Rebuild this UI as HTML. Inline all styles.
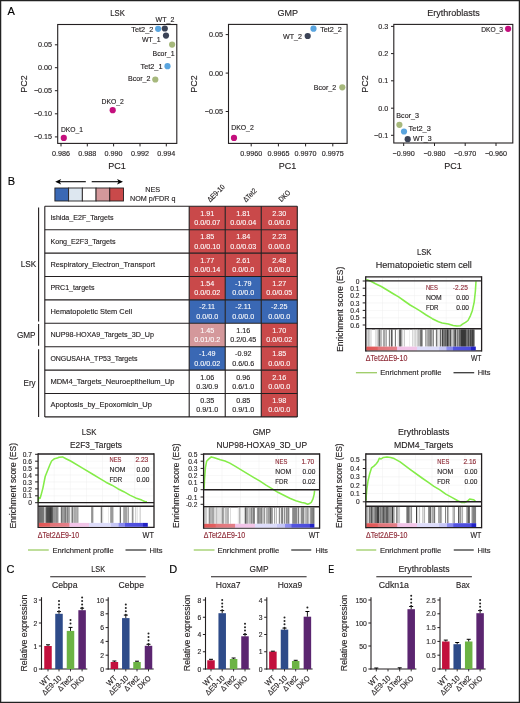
<!DOCTYPE html>
<html><head><meta charset="utf-8"><style>
html,body{margin:0;padding:0;background:#fff;}
svg{display:block;will-change:transform;}
text{font-family:"Liberation Sans", sans-serif;}
</style></head><body>
<svg width="520" height="703" viewBox="0 0 520 703">
<rect x="0" y="0" width="520" height="703" fill="#fff"/>
<text x="7.60" y="15.24" font-size="11" fill="#000" stroke="#000" stroke-width="0.14">A</text>
<text x="7.70" y="184.84" font-size="11" fill="#000" stroke="#000" stroke-width="0.14">B</text>
<text x="6.60" y="573.04" font-size="11" fill="#000" stroke="#000" stroke-width="0.14">C</text>
<text x="169.20" y="573.04" font-size="11" fill="#000" stroke="#000" stroke-width="0.14">D</text>
<text x="328.30" y="572.54" font-size="11" fill="#000" stroke="#000" stroke-width="0.14" textLength="5.90" lengthAdjust="spacingAndGlyphs">E</text>
<rect x="57.70" y="24.50" width="119.10" height="118.90" fill="none" stroke="#231f20" stroke-width="1.1"/>
<line x1="54.90" y1="44.80" x2="57.70" y2="44.80" stroke="#231f20" stroke-width="1"/>
<text x="52.10" y="47.38" font-size="7.2" text-anchor="end" fill="#231f20" stroke="#231f20" stroke-width="0.14">0.05</text>
<line x1="54.90" y1="67.70" x2="57.70" y2="67.70" stroke="#231f20" stroke-width="1"/>
<text x="52.10" y="70.28" font-size="7.2" text-anchor="end" fill="#231f20" stroke="#231f20" stroke-width="0.14">0.00</text>
<line x1="54.90" y1="90.70" x2="57.70" y2="90.70" stroke="#231f20" stroke-width="1"/>
<text x="52.10" y="93.28" font-size="7.2" text-anchor="end" fill="#231f20" stroke="#231f20" stroke-width="0.14">−0.05</text>
<line x1="54.90" y1="113.80" x2="57.70" y2="113.80" stroke="#231f20" stroke-width="1"/>
<text x="52.10" y="116.38" font-size="7.2" text-anchor="end" fill="#231f20" stroke="#231f20" stroke-width="0.14">−0.10</text>
<line x1="54.90" y1="136.90" x2="57.70" y2="136.90" stroke="#231f20" stroke-width="1"/>
<text x="52.10" y="139.48" font-size="7.2" text-anchor="end" fill="#231f20" stroke="#231f20" stroke-width="0.14">−0.15</text>
<line x1="61.00" y1="143.40" x2="61.00" y2="146.40" stroke="#231f20" stroke-width="1"/>
<text x="61.00" y="156.00" font-size="7.2" text-anchor="middle" fill="#231f20" stroke="#231f20" stroke-width="0.14">0.986</text>
<line x1="87.30" y1="143.40" x2="87.30" y2="146.40" stroke="#231f20" stroke-width="1"/>
<text x="87.30" y="156.00" font-size="7.2" text-anchor="middle" fill="#231f20" stroke="#231f20" stroke-width="0.14">0.988</text>
<line x1="113.60" y1="143.40" x2="113.60" y2="146.40" stroke="#231f20" stroke-width="1"/>
<text x="113.60" y="156.00" font-size="7.2" text-anchor="middle" fill="#231f20" stroke="#231f20" stroke-width="0.14">0.990</text>
<line x1="140.00" y1="143.40" x2="140.00" y2="146.40" stroke="#231f20" stroke-width="1"/>
<text x="140.00" y="156.00" font-size="7.2" text-anchor="middle" fill="#231f20" stroke="#231f20" stroke-width="0.14">0.992</text>
<line x1="166.30" y1="143.40" x2="166.30" y2="146.40" stroke="#231f20" stroke-width="1"/>
<text x="166.30" y="156.00" font-size="7.2" text-anchor="middle" fill="#231f20" stroke="#231f20" stroke-width="0.14">0.994</text>
<text x="117.50" y="16.20" font-size="9" text-anchor="middle" fill="#231f20" stroke="#231f20" stroke-width="0.14" textLength="14.60" lengthAdjust="spacingAndGlyphs">LSK</text>
<text transform="translate(24.20,84.00) rotate(-90)" x="0" y="3.22" font-size="9" text-anchor="middle" fill="#231f20" stroke="#231f20" stroke-width="0.14">PC2</text>
<text x="117.00" y="169.20" font-size="9" text-anchor="middle" fill="#231f20" stroke="#231f20" stroke-width="0.14">PC1</text>
<circle cx="158.10" cy="28.80" r="3.1" fill="#5aa5df"/>
<circle cx="164.80" cy="28.50" r="3.1" fill="#3b4356"/>
<circle cx="166.00" cy="35.60" r="3.1" fill="#3b4356"/>
<circle cx="172.10" cy="44.60" r="3.1" fill="#a6b87c"/>
<circle cx="167.50" cy="66.20" r="3.1" fill="#5aa5df"/>
<circle cx="155.30" cy="79.50" r="3.1" fill="#a6b87c"/>
<circle cx="112.70" cy="110.20" r="3.1" fill="#c40f7d"/>
<circle cx="63.80" cy="137.90" r="3.1" fill="#c40f7d"/>
<text x="155.60" y="21.91" font-size="7.3" fill="#231f20" stroke="#231f20" stroke-width="0.14" textLength="18.70" lengthAdjust="spacingAndGlyphs">WT_2</text>
<text x="131.30" y="32.11" font-size="7.3" fill="#231f20" stroke="#231f20" stroke-width="0.14" textLength="22.00" lengthAdjust="spacingAndGlyphs">Tet2_2</text>
<text x="142.00" y="42.41" font-size="7.3" fill="#231f20" stroke="#231f20" stroke-width="0.14" textLength="18.50" lengthAdjust="spacingAndGlyphs">WT_1</text>
<text x="152.50" y="56.21" font-size="7.3" fill="#231f20" stroke="#231f20" stroke-width="0.14" textLength="22.00" lengthAdjust="spacingAndGlyphs">Bcor_1</text>
<text x="140.50" y="68.81" font-size="7.3" fill="#231f20" stroke="#231f20" stroke-width="0.14" textLength="22.00" lengthAdjust="spacingAndGlyphs">Tet2_1</text>
<text x="128.00" y="81.41" font-size="7.3" fill="#231f20" stroke="#231f20" stroke-width="0.14" textLength="22.50" lengthAdjust="spacingAndGlyphs">Bcor_2</text>
<text x="101.50" y="103.81" font-size="7.3" fill="#231f20" stroke="#231f20" stroke-width="0.14" textLength="22.30" lengthAdjust="spacingAndGlyphs">DKO_2</text>
<text x="61.00" y="131.51" font-size="7.3" fill="#231f20" stroke="#231f20" stroke-width="0.14" textLength="22.00" lengthAdjust="spacingAndGlyphs">DKO_1</text>
<rect x="228.50" y="24.40" width="118.60" height="119.00" fill="none" stroke="#231f20" stroke-width="1.1"/>
<line x1="225.70" y1="34.60" x2="228.50" y2="34.60" stroke="#231f20" stroke-width="1"/>
<text x="222.90" y="37.18" font-size="7.2" text-anchor="end" fill="#231f20" stroke="#231f20" stroke-width="0.14">0.05</text>
<line x1="225.70" y1="73.10" x2="228.50" y2="73.10" stroke="#231f20" stroke-width="1"/>
<text x="222.90" y="75.68" font-size="7.2" text-anchor="end" fill="#231f20" stroke="#231f20" stroke-width="0.14">0.00</text>
<line x1="225.70" y1="111.50" x2="228.50" y2="111.50" stroke="#231f20" stroke-width="1"/>
<text x="222.90" y="114.08" font-size="7.2" text-anchor="end" fill="#231f20" stroke="#231f20" stroke-width="0.14">−0.05</text>
<line x1="251.20" y1="143.40" x2="251.20" y2="146.40" stroke="#231f20" stroke-width="1"/>
<text x="251.20" y="156.00" font-size="7.2" text-anchor="middle" fill="#231f20" stroke="#231f20" stroke-width="0.14">0.9960</text>
<line x1="278.40" y1="143.40" x2="278.40" y2="146.40" stroke="#231f20" stroke-width="1"/>
<text x="278.40" y="156.00" font-size="7.2" text-anchor="middle" fill="#231f20" stroke="#231f20" stroke-width="0.14">0.9965</text>
<line x1="305.60" y1="143.40" x2="305.60" y2="146.40" stroke="#231f20" stroke-width="1"/>
<text x="305.60" y="156.00" font-size="7.2" text-anchor="middle" fill="#231f20" stroke="#231f20" stroke-width="0.14">0.9970</text>
<line x1="332.80" y1="143.40" x2="332.80" y2="146.40" stroke="#231f20" stroke-width="1"/>
<text x="332.80" y="156.00" font-size="7.2" text-anchor="middle" fill="#231f20" stroke="#231f20" stroke-width="0.14">0.9975</text>
<text x="287.80" y="16.20" font-size="9" text-anchor="middle" fill="#231f20" stroke="#231f20" stroke-width="0.14">GMP</text>
<text transform="translate(194.20,84.00) rotate(-90)" x="0" y="3.22" font-size="9" text-anchor="middle" fill="#231f20" stroke="#231f20" stroke-width="0.14">PC2</text>
<text x="287.40" y="169.20" font-size="9" text-anchor="middle" fill="#231f20" stroke="#231f20" stroke-width="0.14">PC1</text>
<circle cx="313.50" cy="28.70" r="3.1" fill="#5aa5df"/>
<circle cx="307.70" cy="36.00" r="3.1" fill="#3b4356"/>
<circle cx="342.30" cy="87.30" r="3.1" fill="#a6b87c"/>
<circle cx="234.00" cy="137.90" r="3.1" fill="#c40f7d"/>
<text x="320.20" y="31.81" font-size="7.3" fill="#231f20" stroke="#231f20" stroke-width="0.14" textLength="21.70" lengthAdjust="spacingAndGlyphs">Tet2_2</text>
<text x="283.00" y="38.61" font-size="7.3" fill="#231f20" stroke="#231f20" stroke-width="0.14" textLength="19.00" lengthAdjust="spacingAndGlyphs">WT_2</text>
<text x="313.80" y="89.61" font-size="7.3" fill="#231f20" stroke="#231f20" stroke-width="0.14" textLength="22.40" lengthAdjust="spacingAndGlyphs">Bcor_2</text>
<text x="231.20" y="130.31" font-size="7.3" fill="#231f20" stroke="#231f20" stroke-width="0.14" textLength="22.60" lengthAdjust="spacingAndGlyphs">DKO_2</text>
<rect x="393.80" y="24.40" width="119.00" height="118.60" fill="none" stroke="#231f20" stroke-width="1.1"/>
<line x1="391.00" y1="26.40" x2="393.80" y2="26.40" stroke="#231f20" stroke-width="1"/>
<text x="388.20" y="28.98" font-size="7.2" text-anchor="end" fill="#231f20" stroke="#231f20" stroke-width="0.14">0.3</text>
<line x1="391.00" y1="53.60" x2="393.80" y2="53.60" stroke="#231f20" stroke-width="1"/>
<text x="388.20" y="56.18" font-size="7.2" text-anchor="end" fill="#231f20" stroke="#231f20" stroke-width="0.14">0.2</text>
<line x1="391.00" y1="80.80" x2="393.80" y2="80.80" stroke="#231f20" stroke-width="1"/>
<text x="388.20" y="83.38" font-size="7.2" text-anchor="end" fill="#231f20" stroke="#231f20" stroke-width="0.14">0.1</text>
<line x1="391.00" y1="108.20" x2="393.80" y2="108.20" stroke="#231f20" stroke-width="1"/>
<text x="388.20" y="110.78" font-size="7.2" text-anchor="end" fill="#231f20" stroke="#231f20" stroke-width="0.14">0.0</text>
<line x1="391.00" y1="135.30" x2="393.80" y2="135.30" stroke="#231f20" stroke-width="1"/>
<text x="388.20" y="137.88" font-size="7.2" text-anchor="end" fill="#231f20" stroke="#231f20" stroke-width="0.14">−0.1</text>
<line x1="403.70" y1="143.00" x2="403.70" y2="146.00" stroke="#231f20" stroke-width="1"/>
<text x="403.70" y="156.00" font-size="7.2" text-anchor="middle" fill="#231f20" stroke="#231f20" stroke-width="0.14">−0.990</text>
<line x1="434.50" y1="143.00" x2="434.50" y2="146.00" stroke="#231f20" stroke-width="1"/>
<text x="434.50" y="156.00" font-size="7.2" text-anchor="middle" fill="#231f20" stroke="#231f20" stroke-width="0.14">−0.980</text>
<line x1="465.20" y1="143.00" x2="465.20" y2="146.00" stroke="#231f20" stroke-width="1"/>
<text x="465.20" y="156.00" font-size="7.2" text-anchor="middle" fill="#231f20" stroke="#231f20" stroke-width="0.14">−0.970</text>
<line x1="496.00" y1="143.00" x2="496.00" y2="146.00" stroke="#231f20" stroke-width="1"/>
<text x="496.00" y="156.00" font-size="7.2" text-anchor="middle" fill="#231f20" stroke="#231f20" stroke-width="0.14">−0.960</text>
<text x="453.50" y="16.20" font-size="9" text-anchor="middle" fill="#231f20" stroke="#231f20" stroke-width="0.14">Erythroblasts</text>
<text transform="translate(364.80,84.00) rotate(-90)" x="0" y="3.22" font-size="9" text-anchor="middle" fill="#231f20" stroke="#231f20" stroke-width="0.14">PC2</text>
<text x="453.00" y="169.20" font-size="9" text-anchor="middle" fill="#231f20" stroke="#231f20" stroke-width="0.14">PC1</text>
<circle cx="508.10" cy="28.80" r="3.1" fill="#c40f7d"/>
<circle cx="399.40" cy="124.80" r="3.1" fill="#a6b87c"/>
<circle cx="404.00" cy="131.50" r="3.1" fill="#5aa5df"/>
<circle cx="407.70" cy="139.20" r="3.1" fill="#3b4356"/>
<text x="481.20" y="32.41" font-size="7.3" fill="#231f20" stroke="#231f20" stroke-width="0.14" textLength="21.90" lengthAdjust="spacingAndGlyphs">DKO_3</text>
<text x="396.30" y="118.41" font-size="7.3" fill="#231f20" stroke="#231f20" stroke-width="0.14" textLength="22.70" lengthAdjust="spacingAndGlyphs">Bcor_3</text>
<text x="408.60" y="130.81" font-size="7.3" fill="#231f20" stroke="#231f20" stroke-width="0.14" textLength="22.20" lengthAdjust="spacingAndGlyphs">Tet2_3</text>
<text x="412.90" y="140.91" font-size="7.3" fill="#231f20" stroke="#231f20" stroke-width="0.14" textLength="18.80" lengthAdjust="spacingAndGlyphs">WT_3</text>
<line x1="58.50" y1="181.70" x2="85.80" y2="181.70" stroke="#000" stroke-width="1.1"/>
<line x1="91.70" y1="181.70" x2="119.70" y2="181.70" stroke="#000" stroke-width="1.1"/>
<path d="M55.2,181.7 L61.2,179.0 L59.6,181.7 L61.2,184.4 Z" fill="#000"/>
<path d="M123.0,181.7 L117.0,179.0 L118.6,181.7 L117.0,184.4 Z" fill="#000"/>
<rect x="54.90" y="188.00" width="13.72" height="13.00" fill="#3a68b4" stroke="#231f20" stroke-width="0.9"/>
<rect x="68.62" y="188.00" width="13.72" height="13.00" fill="#dde7f0" stroke="#231f20" stroke-width="0.9"/>
<rect x="82.34" y="188.00" width="13.72" height="13.00" fill="#ffffff" stroke="#231f20" stroke-width="0.9"/>
<rect x="96.06" y="188.00" width="13.72" height="13.00" fill="#d4989b" stroke="#231f20" stroke-width="0.9"/>
<rect x="109.78" y="188.00" width="13.72" height="13.00" fill="#c9494a" stroke="#231f20" stroke-width="0.9"/>
<text x="152.70" y="191.81" font-size="7.3" text-anchor="middle" fill="#231f20" stroke="#231f20" stroke-width="0.14">NES</text>
<text x="152.70" y="201.41" font-size="7.3" text-anchor="middle" fill="#231f20" stroke="#231f20" stroke-width="0.14" textLength="45.40" lengthAdjust="spacingAndGlyphs">NOM p/FDR q</text>
<rect x="44.80" y="206.30" width="144.40" height="23.40" fill="#fff"/>
<text x="50.40" y="220.29" font-size="7.5" fill="#231f20" stroke="#231f20" stroke-width="0.14" textLength="63.10" lengthAdjust="spacingAndGlyphs">Ishida_E2F_Targets</text>
<rect x="189.20" y="206.30" width="36.03" height="23.40" fill="#c9494a"/>
<text x="207.21" y="215.78" font-size="7.2" text-anchor="middle" fill="#fff" stroke="#fff" stroke-width="0.08">1.91</text>
<text x="207.21" y="225.18" font-size="7.2" text-anchor="middle" fill="#fff" stroke="#fff" stroke-width="0.08">0.0/0.07</text>
<rect x="225.23" y="206.30" width="36.03" height="23.40" fill="#c9494a"/>
<text x="243.25" y="215.78" font-size="7.2" text-anchor="middle" fill="#fff" stroke="#fff" stroke-width="0.08">1.81</text>
<text x="243.25" y="225.18" font-size="7.2" text-anchor="middle" fill="#fff" stroke="#fff" stroke-width="0.08">0.0/0.04</text>
<rect x="261.26" y="206.30" width="36.03" height="23.40" fill="#c9494a"/>
<text x="279.27" y="215.78" font-size="7.2" text-anchor="middle" fill="#fff" stroke="#fff" stroke-width="0.08">2.30</text>
<text x="279.27" y="225.18" font-size="7.2" text-anchor="middle" fill="#fff" stroke="#fff" stroke-width="0.08">0.0/0.0</text>
<rect x="44.80" y="229.70" width="144.40" height="23.40" fill="#fff"/>
<text x="50.40" y="243.69" font-size="7.5" fill="#231f20" stroke="#231f20" stroke-width="0.14" textLength="65.20" lengthAdjust="spacingAndGlyphs">Kong_E2F3_Targets</text>
<rect x="189.20" y="229.70" width="36.03" height="23.40" fill="#c9494a"/>
<text x="207.21" y="239.18" font-size="7.2" text-anchor="middle" fill="#fff" stroke="#fff" stroke-width="0.08">1.85</text>
<text x="207.21" y="248.58" font-size="7.2" text-anchor="middle" fill="#fff" stroke="#fff" stroke-width="0.08">0.0/0.10</text>
<rect x="225.23" y="229.70" width="36.03" height="23.40" fill="#c9494a"/>
<text x="243.25" y="239.18" font-size="7.2" text-anchor="middle" fill="#fff" stroke="#fff" stroke-width="0.08">1.84</text>
<text x="243.25" y="248.58" font-size="7.2" text-anchor="middle" fill="#fff" stroke="#fff" stroke-width="0.08">0.0/0.03</text>
<rect x="261.26" y="229.70" width="36.03" height="23.40" fill="#c9494a"/>
<text x="279.27" y="239.18" font-size="7.2" text-anchor="middle" fill="#fff" stroke="#fff" stroke-width="0.08">2.23</text>
<text x="279.27" y="248.58" font-size="7.2" text-anchor="middle" fill="#fff" stroke="#fff" stroke-width="0.08">0.0/0.0</text>
<rect x="44.80" y="253.10" width="144.40" height="23.40" fill="#fff"/>
<text x="50.40" y="267.09" font-size="7.5" fill="#231f20" stroke="#231f20" stroke-width="0.14" textLength="104.60" lengthAdjust="spacingAndGlyphs">Respiratory_Electron_Transport</text>
<rect x="189.20" y="253.10" width="36.03" height="23.40" fill="#c9494a"/>
<text x="207.21" y="262.58" font-size="7.2" text-anchor="middle" fill="#fff" stroke="#fff" stroke-width="0.08">1.77</text>
<text x="207.21" y="271.98" font-size="7.2" text-anchor="middle" fill="#fff" stroke="#fff" stroke-width="0.08">0.0/0.14</text>
<rect x="225.23" y="253.10" width="36.03" height="23.40" fill="#c9494a"/>
<text x="243.25" y="262.58" font-size="7.2" text-anchor="middle" fill="#fff" stroke="#fff" stroke-width="0.08">2.61</text>
<text x="243.25" y="271.98" font-size="7.2" text-anchor="middle" fill="#fff" stroke="#fff" stroke-width="0.08">0.0/0.0</text>
<rect x="261.26" y="253.10" width="36.03" height="23.40" fill="#c9494a"/>
<text x="279.27" y="262.58" font-size="7.2" text-anchor="middle" fill="#fff" stroke="#fff" stroke-width="0.08">2.48</text>
<text x="279.27" y="271.98" font-size="7.2" text-anchor="middle" fill="#fff" stroke="#fff" stroke-width="0.08">0.0/0.0</text>
<rect x="44.80" y="276.50" width="144.40" height="23.40" fill="#fff"/>
<text x="50.40" y="290.49" font-size="7.5" fill="#231f20" stroke="#231f20" stroke-width="0.14" textLength="44.00" lengthAdjust="spacingAndGlyphs">PRC1_targets</text>
<rect x="189.20" y="276.50" width="36.03" height="23.40" fill="#c9494a"/>
<text x="207.21" y="285.98" font-size="7.2" text-anchor="middle" fill="#fff" stroke="#fff" stroke-width="0.08">1.54</text>
<text x="207.21" y="295.38" font-size="7.2" text-anchor="middle" fill="#fff" stroke="#fff" stroke-width="0.08">0.0/0.02</text>
<rect x="225.23" y="276.50" width="36.03" height="23.40" fill="#3a68b4"/>
<text x="243.25" y="285.98" font-size="7.2" text-anchor="middle" fill="#fff" stroke="#fff" stroke-width="0.08">-1.79</text>
<text x="243.25" y="295.38" font-size="7.2" text-anchor="middle" fill="#fff" stroke="#fff" stroke-width="0.08">0.0/0.0</text>
<rect x="261.26" y="276.50" width="36.03" height="23.40" fill="#c9494a"/>
<text x="279.27" y="285.98" font-size="7.2" text-anchor="middle" fill="#fff" stroke="#fff" stroke-width="0.08">1.27</text>
<text x="279.27" y="295.38" font-size="7.2" text-anchor="middle" fill="#fff" stroke="#fff" stroke-width="0.08">0.0/0.05</text>
<rect x="44.80" y="299.90" width="144.40" height="23.40" fill="#fff"/>
<text x="50.40" y="313.88" font-size="7.5" fill="#231f20" stroke="#231f20" stroke-width="0.14" textLength="81.80" lengthAdjust="spacingAndGlyphs">Hematopoietic Stem Cell</text>
<rect x="189.20" y="299.90" width="36.03" height="23.40" fill="#3a68b4"/>
<text x="207.21" y="309.38" font-size="7.2" text-anchor="middle" fill="#fff" stroke="#fff" stroke-width="0.08">-2.11</text>
<text x="207.21" y="318.78" font-size="7.2" text-anchor="middle" fill="#fff" stroke="#fff" stroke-width="0.08">0.0/0.0</text>
<rect x="225.23" y="299.90" width="36.03" height="23.40" fill="#3a68b4"/>
<text x="243.25" y="309.38" font-size="7.2" text-anchor="middle" fill="#fff" stroke="#fff" stroke-width="0.08">-2.11</text>
<text x="243.25" y="318.78" font-size="7.2" text-anchor="middle" fill="#fff" stroke="#fff" stroke-width="0.08">0.0/0.0</text>
<rect x="261.26" y="299.90" width="36.03" height="23.40" fill="#3a68b4"/>
<text x="279.27" y="309.38" font-size="7.2" text-anchor="middle" fill="#fff" stroke="#fff" stroke-width="0.08">-2.25</text>
<text x="279.27" y="318.78" font-size="7.2" text-anchor="middle" fill="#fff" stroke="#fff" stroke-width="0.08">0.0/0.0</text>
<rect x="44.80" y="323.30" width="144.40" height="23.40" fill="#fff"/>
<text x="50.40" y="337.29" font-size="7.5" fill="#231f20" stroke="#231f20" stroke-width="0.14" textLength="103.60" lengthAdjust="spacingAndGlyphs">NUP98-HOXA9_Targets_3D_Up</text>
<rect x="189.20" y="323.30" width="36.03" height="23.40" fill="#d4989b"/>
<text x="207.21" y="332.78" font-size="7.2" text-anchor="middle" fill="#fff" stroke="#fff" stroke-width="0.08">1.45</text>
<text x="207.21" y="342.18" font-size="7.2" text-anchor="middle" fill="#fff" stroke="#fff" stroke-width="0.08">0.01/0.2</text>
<rect x="225.23" y="323.30" width="36.03" height="23.40" fill="#fff"/>
<text x="243.25" y="332.78" font-size="7.2" text-anchor="middle" fill="#231f20" stroke="#231f20" stroke-width="0.14">1.16</text>
<text x="243.25" y="342.18" font-size="7.2" text-anchor="middle" fill="#231f20" stroke="#231f20" stroke-width="0.14">0.2/0.45</text>
<rect x="261.26" y="323.30" width="36.03" height="23.40" fill="#c9494a"/>
<text x="279.27" y="332.78" font-size="7.2" text-anchor="middle" fill="#fff" stroke="#fff" stroke-width="0.08">1.70</text>
<text x="279.27" y="342.18" font-size="7.2" text-anchor="middle" fill="#fff" stroke="#fff" stroke-width="0.08">0.0/0.02</text>
<rect x="44.80" y="346.70" width="144.40" height="23.40" fill="#fff"/>
<text x="50.40" y="360.69" font-size="7.5" fill="#231f20" stroke="#231f20" stroke-width="0.14" textLength="87.10" lengthAdjust="spacingAndGlyphs">ONGUSAHA_TP53_Targets</text>
<rect x="189.20" y="346.70" width="36.03" height="23.40" fill="#3a68b4"/>
<text x="207.21" y="356.18" font-size="7.2" text-anchor="middle" fill="#fff" stroke="#fff" stroke-width="0.08">-1.49</text>
<text x="207.21" y="365.58" font-size="7.2" text-anchor="middle" fill="#fff" stroke="#fff" stroke-width="0.08">0.0/0.02</text>
<rect x="225.23" y="346.70" width="36.03" height="23.40" fill="#fff"/>
<text x="243.25" y="356.18" font-size="7.2" text-anchor="middle" fill="#231f20" stroke="#231f20" stroke-width="0.14">-0.92</text>
<text x="243.25" y="365.58" font-size="7.2" text-anchor="middle" fill="#231f20" stroke="#231f20" stroke-width="0.14">0.6/0.6</text>
<rect x="261.26" y="346.70" width="36.03" height="23.40" fill="#c9494a"/>
<text x="279.27" y="356.18" font-size="7.2" text-anchor="middle" fill="#fff" stroke="#fff" stroke-width="0.08">1.85</text>
<text x="279.27" y="365.58" font-size="7.2" text-anchor="middle" fill="#fff" stroke="#fff" stroke-width="0.08">0.0/0.0</text>
<rect x="44.80" y="370.10" width="144.40" height="23.40" fill="#fff"/>
<text x="50.40" y="384.09" font-size="7.5" fill="#231f20" stroke="#231f20" stroke-width="0.14" textLength="124.10" lengthAdjust="spacingAndGlyphs">MDM4_Targets_Neuroepithelium_Up</text>
<rect x="189.20" y="370.10" width="36.03" height="23.40" fill="#fff"/>
<text x="207.21" y="379.58" font-size="7.2" text-anchor="middle" fill="#231f20" stroke="#231f20" stroke-width="0.14">1.06</text>
<text x="207.21" y="388.98" font-size="7.2" text-anchor="middle" fill="#231f20" stroke="#231f20" stroke-width="0.14">0.3/0.9</text>
<rect x="225.23" y="370.10" width="36.03" height="23.40" fill="#fff"/>
<text x="243.25" y="379.58" font-size="7.2" text-anchor="middle" fill="#231f20" stroke="#231f20" stroke-width="0.14">0.96</text>
<text x="243.25" y="388.98" font-size="7.2" text-anchor="middle" fill="#231f20" stroke="#231f20" stroke-width="0.14">0.6/1.0</text>
<rect x="261.26" y="370.10" width="36.03" height="23.40" fill="#c9494a"/>
<text x="279.27" y="379.58" font-size="7.2" text-anchor="middle" fill="#fff" stroke="#fff" stroke-width="0.08">2.16</text>
<text x="279.27" y="388.98" font-size="7.2" text-anchor="middle" fill="#fff" stroke="#fff" stroke-width="0.08">0.0/0.0</text>
<rect x="44.80" y="393.50" width="144.40" height="23.40" fill="#fff"/>
<text x="50.40" y="407.49" font-size="7.5" fill="#231f20" stroke="#231f20" stroke-width="0.14" textLength="101.50" lengthAdjust="spacingAndGlyphs">Apoptosis_by_Epoxomicin_Up</text>
<rect x="189.20" y="393.50" width="36.03" height="23.40" fill="#fff"/>
<text x="207.21" y="402.98" font-size="7.2" text-anchor="middle" fill="#231f20" stroke="#231f20" stroke-width="0.14">0.35</text>
<text x="207.21" y="412.38" font-size="7.2" text-anchor="middle" fill="#231f20" stroke="#231f20" stroke-width="0.14">0.9/1.0</text>
<rect x="225.23" y="393.50" width="36.03" height="23.40" fill="#fff"/>
<text x="243.25" y="402.98" font-size="7.2" text-anchor="middle" fill="#231f20" stroke="#231f20" stroke-width="0.14">0.85</text>
<text x="243.25" y="412.38" font-size="7.2" text-anchor="middle" fill="#231f20" stroke="#231f20" stroke-width="0.14">0.9/1.0</text>
<rect x="261.26" y="393.50" width="36.03" height="23.40" fill="#c9494a"/>
<text x="279.27" y="402.98" font-size="7.2" text-anchor="middle" fill="#fff" stroke="#fff" stroke-width="0.08">1.98</text>
<text x="279.27" y="412.38" font-size="7.2" text-anchor="middle" fill="#fff" stroke="#fff" stroke-width="0.08">0.0/0.0</text>
<line x1="44.80" y1="206.30" x2="297.29" y2="206.30" stroke="#231f20" stroke-width="1.1"/>
<line x1="44.80" y1="229.70" x2="297.29" y2="229.70" stroke="#231f20" stroke-width="1.1"/>
<line x1="44.80" y1="253.10" x2="297.29" y2="253.10" stroke="#231f20" stroke-width="1.1"/>
<line x1="44.80" y1="276.50" x2="297.29" y2="276.50" stroke="#231f20" stroke-width="1.1"/>
<line x1="44.80" y1="299.90" x2="297.29" y2="299.90" stroke="#231f20" stroke-width="1.1"/>
<line x1="44.80" y1="323.30" x2="297.29" y2="323.30" stroke="#231f20" stroke-width="1.1"/>
<line x1="44.80" y1="346.70" x2="297.29" y2="346.70" stroke="#231f20" stroke-width="1.1"/>
<line x1="44.80" y1="370.10" x2="297.29" y2="370.10" stroke="#231f20" stroke-width="1.1"/>
<line x1="44.80" y1="393.50" x2="297.29" y2="393.50" stroke="#231f20" stroke-width="1.1"/>
<line x1="44.80" y1="416.90" x2="297.29" y2="416.90" stroke="#231f20" stroke-width="1.1"/>
<line x1="44.80" y1="206.30" x2="44.80" y2="416.90" stroke="#231f20" stroke-width="1.1"/>
<line x1="189.20" y1="206.30" x2="189.20" y2="416.90" stroke="#231f20" stroke-width="1.1"/>
<line x1="225.23" y1="206.30" x2="225.23" y2="416.90" stroke="#231f20" stroke-width="1.1"/>
<line x1="261.26" y1="206.30" x2="261.26" y2="416.90" stroke="#231f20" stroke-width="1.1"/>
<line x1="297.29" y1="206.30" x2="297.29" y2="416.90" stroke="#231f20" stroke-width="1.1"/>
<line x1="38.60" y1="207.50" x2="38.60" y2="321.50" stroke="#231f20" stroke-width="1.1"/>
<line x1="38.60" y1="323.90" x2="38.60" y2="345.80" stroke="#231f20" stroke-width="1.1"/>
<line x1="38.60" y1="349.20" x2="38.60" y2="416.90" stroke="#231f20" stroke-width="1.1"/>
<text x="36.30" y="266.62" font-size="9" text-anchor="end" fill="#231f20" stroke="#231f20" stroke-width="0.14" textLength="15.50" lengthAdjust="spacingAndGlyphs">LSK</text>
<text x="35.60" y="337.82" font-size="9" text-anchor="end" fill="#231f20" stroke="#231f20" stroke-width="0.14" textLength="18.70" lengthAdjust="spacingAndGlyphs">GMP</text>
<text x="35.60" y="385.52" font-size="9" text-anchor="end" fill="#231f20" stroke="#231f20" stroke-width="0.14" textLength="12.10" lengthAdjust="spacingAndGlyphs">Ery</text>
<text transform="translate(210.30,202.60) rotate(-45)" x="0" y="0" font-size="7.4" fill="#231f20" stroke="#231f20" stroke-width="0.14" textLength="21.30" lengthAdjust="spacingAndGlyphs">ΔE9-10</text>
<text transform="translate(246.00,202.60) rotate(-45)" x="0" y="0" font-size="7.4" fill="#231f20" stroke="#231f20" stroke-width="0.14" textLength="16.00" lengthAdjust="spacingAndGlyphs">ΔTet2</text>
<text transform="translate(281.60,202.30) rotate(-45)" x="0" y="0" font-size="7.4" fill="#231f20" stroke="#231f20" stroke-width="0.14" textLength="13.00" lengthAdjust="spacingAndGlyphs">DKO</text>
<defs><linearGradient id="gg" x1="0" x2="1" y1="0" y2="0">
<stop offset="0" stop-color="#e25454"/><stop offset="0.10" stop-color="#e26060"/>
<stop offset="0.11" stop-color="#e27478"/><stop offset="0.28" stop-color="#e4808a"/>
<stop offset="0.285" stop-color="#f2c2e8"/><stop offset="0.46" stop-color="#f2c6e8"/>
<stop offset="0.465" stop-color="#dedcfa"/><stop offset="0.66" stop-color="#dcdcfa"/>
<stop offset="0.665" stop-color="#c8c8f6"/><stop offset="0.73" stop-color="#c4c4f6"/>
<stop offset="0.735" stop-color="#8c8cee"/><stop offset="0.79" stop-color="#8686ee"/>
<stop offset="0.795" stop-color="#5454e0"/><stop offset="0.955" stop-color="#4c4cde"/>
<stop offset="0.96" stop-color="#2424c6"/><stop offset="1" stop-color="#2020c4"/>
</linearGradient></defs>
<line x1="382.50" y1="277.90" x2="382.50" y2="327.80" stroke="#efefef" stroke-width="0.5"/>
<line x1="398.40" y1="277.90" x2="398.40" y2="327.80" stroke="#efefef" stroke-width="0.5"/>
<line x1="414.40" y1="277.90" x2="414.40" y2="327.80" stroke="#efefef" stroke-width="0.5"/>
<line x1="430.30" y1="277.90" x2="430.30" y2="327.80" stroke="#efefef" stroke-width="0.5"/>
<line x1="446.20" y1="277.90" x2="446.20" y2="327.80" stroke="#efefef" stroke-width="0.5"/>
<line x1="462.10" y1="277.90" x2="462.10" y2="327.80" stroke="#efefef" stroke-width="0.5"/>
<line x1="366.70" y1="288.20" x2="480.60" y2="288.20" stroke="#efefef" stroke-width="0.5"/>
<line x1="366.70" y1="295.60" x2="480.60" y2="295.60" stroke="#efefef" stroke-width="0.5"/>
<line x1="366.70" y1="302.90" x2="480.60" y2="302.90" stroke="#efefef" stroke-width="0.5"/>
<line x1="366.70" y1="310.40" x2="480.60" y2="310.40" stroke="#efefef" stroke-width="0.5"/>
<line x1="366.70" y1="317.80" x2="480.60" y2="317.80" stroke="#efefef" stroke-width="0.5"/>
<line x1="366.70" y1="325.00" x2="480.60" y2="325.00" stroke="#efefef" stroke-width="0.5"/>
<path d="M366.30,279.60 L370.90,281.30 L375.50,283.70 L381.30,286.50 L387.10,290.00 L392.80,293.50 L398.60,296.90 L404.40,301.00 L410.10,305.00 L415.90,308.40 L420.00,310.90 L426.20,315.00 L432.30,318.70 L438.50,321.80 L442.20,323.00 L448.30,324.00 L453.20,325.50 L456.90,326.10 L460.60,325.70 L462.50,324.20 L465.50,322.40 L468.00,320.50 L470.50,315.60 L472.30,310.70 L474.20,302.10 L475.40,291.00 L476.00,281.20" fill="none" stroke="#84ec48" stroke-width="1.55" stroke-linejoin="round"/>
<line x1="365.70" y1="276.90" x2="481.60" y2="276.90" stroke="#231f20" stroke-width="1.4"/>
<line x1="365.70" y1="280.90" x2="481.60" y2="280.90" stroke="#231f20" stroke-width="1.4"/>
<line x1="365.70" y1="328.80" x2="481.60" y2="328.80" stroke="#231f20" stroke-width="1.4"/>
<line x1="365.70" y1="350.90" x2="481.60" y2="350.90" stroke="#231f20" stroke-width="1.3"/>
<rect x="366.40" y="329.60" width="0.55" height="17.00" fill="rgb(122,122,122)"/>
<rect x="366.90" y="329.60" width="0.55" height="17.00" fill="rgb(207,207,207)"/>
<rect x="367.40" y="329.60" width="0.55" height="17.00" fill="rgb(207,207,207)"/>
<rect x="367.90" y="329.60" width="0.55" height="17.00" fill="rgb(171,171,171)"/>
<rect x="368.40" y="329.60" width="0.55" height="17.00" fill="rgb(171,171,171)"/>
<rect x="368.90" y="329.60" width="0.55" height="17.00" fill="rgb(171,171,171)"/>
<rect x="369.40" y="329.60" width="0.55" height="17.00" fill="rgb(202,202,202)"/>
<rect x="369.90" y="329.60" width="0.55" height="17.00" fill="rgb(202,202,202)"/>
<rect x="370.40" y="329.60" width="0.55" height="17.00" fill="rgb(222,222,222)"/>
<rect x="370.90" y="329.60" width="0.55" height="17.00" fill="rgb(222,222,222)"/>
<rect x="371.40" y="329.60" width="0.55" height="17.00" fill="rgb(222,222,222)"/>
<rect x="374.90" y="329.60" width="0.55" height="17.00" fill="rgb(242,242,242)"/>
<rect x="375.40" y="329.60" width="0.55" height="17.00" fill="rgb(210,210,210)"/>
<rect x="375.90" y="329.60" width="0.55" height="17.00" fill="rgb(210,210,210)"/>
<rect x="376.40" y="329.60" width="0.55" height="17.00" fill="rgb(231,231,231)"/>
<rect x="376.90" y="329.60" width="0.55" height="17.00" fill="rgb(194,194,194)"/>
<rect x="377.40" y="329.60" width="0.55" height="17.00" fill="rgb(194,194,194)"/>
<rect x="377.90" y="329.60" width="0.55" height="17.00" fill="rgb(194,194,194)"/>
<rect x="378.40" y="329.60" width="0.55" height="17.00" fill="rgb(141,141,141)"/>
<rect x="378.90" y="329.60" width="0.55" height="17.00" fill="rgb(73,73,73)"/>
<rect x="379.40" y="329.60" width="0.55" height="17.00" fill="rgb(73,73,73)"/>
<rect x="379.90" y="329.60" width="0.55" height="17.00" fill="rgb(73,73,73)"/>
<rect x="380.40" y="329.60" width="0.55" height="17.00" fill="rgb(206,206,206)"/>
<rect x="380.90" y="329.60" width="0.55" height="17.00" fill="rgb(107,107,107)"/>
<rect x="382.90" y="329.60" width="0.55" height="17.00" fill="rgb(143,143,143)"/>
<rect x="383.40" y="329.60" width="0.55" height="17.00" fill="rgb(143,143,143)"/>
<rect x="383.90" y="329.60" width="0.55" height="17.00" fill="rgb(143,143,143)"/>
<rect x="384.40" y="329.60" width="0.55" height="17.00" fill="rgb(143,143,143)"/>
<rect x="384.90" y="329.60" width="0.55" height="17.00" fill="rgb(143,143,143)"/>
<rect x="385.90" y="329.60" width="0.55" height="17.00" fill="rgb(145,145,145)"/>
<rect x="386.40" y="329.60" width="0.55" height="17.00" fill="rgb(145,145,145)"/>
<rect x="388.90" y="329.60" width="0.55" height="17.00" fill="rgb(93,93,93)"/>
<rect x="389.40" y="329.60" width="0.55" height="17.00" fill="rgb(93,93,93)"/>
<rect x="390.90" y="329.60" width="0.55" height="17.00" fill="rgb(41,41,41)"/>
<rect x="391.40" y="329.60" width="0.55" height="17.00" fill="rgb(41,41,41)"/>
<rect x="391.90" y="329.60" width="0.55" height="17.00" fill="rgb(41,41,41)"/>
<rect x="394.90" y="329.60" width="0.55" height="17.00" fill="rgb(78,78,78)"/>
<rect x="395.40" y="329.60" width="0.55" height="17.00" fill="rgb(78,78,78)"/>
<rect x="397.40" y="329.60" width="0.55" height="17.00" fill="rgb(229,229,229)"/>
<rect x="397.90" y="329.60" width="0.55" height="17.00" fill="rgb(229,229,229)"/>
<rect x="398.40" y="329.60" width="0.55" height="17.00" fill="rgb(229,229,229)"/>
<rect x="398.90" y="329.60" width="0.55" height="17.00" fill="rgb(133,133,133)"/>
<rect x="399.40" y="329.60" width="0.55" height="17.00" fill="rgb(48,48,48)"/>
<rect x="399.90" y="329.60" width="0.55" height="17.00" fill="rgb(48,48,48)"/>
<rect x="400.40" y="329.60" width="0.55" height="17.00" fill="rgb(48,48,48)"/>
<rect x="400.90" y="329.60" width="0.55" height="17.00" fill="rgb(48,48,48)"/>
<rect x="402.40" y="329.60" width="0.55" height="17.00" fill="rgb(187,187,187)"/>
<rect x="403.90" y="329.60" width="0.55" height="17.00" fill="rgb(144,144,144)"/>
<rect x="409.40" y="329.60" width="0.55" height="17.00" fill="rgb(225,225,225)"/>
<rect x="412.40" y="329.60" width="0.55" height="17.00" fill="rgb(184,184,184)"/>
<rect x="413.40" y="329.60" width="0.55" height="17.00" fill="rgb(227,227,227)"/>
<rect x="413.90" y="329.60" width="0.55" height="17.00" fill="rgb(207,207,207)"/>
<rect x="414.90" y="329.60" width="0.55" height="17.00" fill="rgb(138,138,138)"/>
<rect x="415.40" y="329.60" width="0.55" height="17.00" fill="rgb(220,220,220)"/>
<rect x="415.90" y="329.60" width="0.55" height="17.00" fill="rgb(231,231,231)"/>
<rect x="416.90" y="329.60" width="0.55" height="17.00" fill="rgb(121,121,121)"/>
<rect x="417.40" y="329.60" width="0.55" height="17.00" fill="rgb(239,239,239)"/>
<rect x="417.90" y="329.60" width="0.55" height="17.00" fill="rgb(108,108,108)"/>
<rect x="419.40" y="329.60" width="0.55" height="17.00" fill="rgb(149,149,149)"/>
<rect x="419.90" y="329.60" width="0.55" height="17.00" fill="rgb(149,149,149)"/>
<rect x="420.40" y="329.60" width="0.55" height="17.00" fill="rgb(69,69,69)"/>
<rect x="420.90" y="329.60" width="0.55" height="17.00" fill="rgb(69,69,69)"/>
<rect x="421.40" y="329.60" width="0.55" height="17.00" fill="rgb(69,69,69)"/>
<rect x="421.90" y="329.60" width="0.55" height="17.00" fill="rgb(69,69,69)"/>
<rect x="425.40" y="329.60" width="0.55" height="17.00" fill="rgb(89,89,89)"/>
<rect x="425.90" y="329.60" width="0.55" height="17.00" fill="rgb(172,172,172)"/>
<rect x="426.40" y="329.60" width="0.55" height="17.00" fill="rgb(172,172,172)"/>
<rect x="426.90" y="329.60" width="0.55" height="17.00" fill="rgb(172,172,172)"/>
<rect x="427.40" y="329.60" width="0.55" height="17.00" fill="rgb(148,148,148)"/>
<rect x="427.90" y="329.60" width="0.55" height="17.00" fill="rgb(128,128,128)"/>
<rect x="428.40" y="329.60" width="0.55" height="17.00" fill="rgb(128,128,128)"/>
<rect x="428.90" y="329.60" width="0.55" height="17.00" fill="rgb(128,128,128)"/>
<rect x="429.40" y="329.60" width="0.55" height="17.00" fill="rgb(128,128,128)"/>
<rect x="429.90" y="329.60" width="0.55" height="17.00" fill="rgb(128,128,128)"/>
<rect x="430.40" y="329.60" width="0.55" height="17.00" fill="rgb(81,81,81)"/>
<rect x="430.90" y="329.60" width="0.55" height="17.00" fill="rgb(81,81,81)"/>
<rect x="431.40" y="329.60" width="0.55" height="17.00" fill="rgb(132,132,132)"/>
<rect x="431.90" y="329.60" width="0.55" height="17.00" fill="rgb(132,132,132)"/>
<rect x="432.90" y="329.60" width="0.55" height="17.00" fill="rgb(100,100,100)"/>
<rect x="433.40" y="329.60" width="0.55" height="17.00" fill="rgb(100,100,100)"/>
<rect x="435.90" y="329.60" width="0.55" height="17.00" fill="rgb(86,86,86)"/>
<rect x="436.40" y="329.60" width="0.55" height="17.00" fill="rgb(82,82,82)"/>
<rect x="436.90" y="329.60" width="0.55" height="17.00" fill="rgb(44,44,44)"/>
<rect x="437.40" y="329.60" width="0.55" height="17.00" fill="rgb(225,225,225)"/>
<rect x="437.90" y="329.60" width="0.55" height="17.00" fill="rgb(225,225,225)"/>
<rect x="438.40" y="329.60" width="0.55" height="17.00" fill="rgb(225,225,225)"/>
<rect x="438.90" y="329.60" width="0.55" height="17.00" fill="rgb(225,225,225)"/>
<rect x="439.40" y="329.60" width="0.55" height="17.00" fill="rgb(225,225,225)"/>
<rect x="439.90" y="329.60" width="0.55" height="17.00" fill="rgb(92,92,92)"/>
<rect x="440.40" y="329.60" width="0.55" height="17.00" fill="rgb(32,32,32)"/>
<rect x="440.90" y="329.60" width="0.55" height="17.00" fill="rgb(160,160,160)"/>
<rect x="441.90" y="329.60" width="0.55" height="17.00" fill="rgb(17,17,17)"/>
<rect x="442.40" y="329.60" width="0.55" height="17.00" fill="rgb(17,17,17)"/>
<rect x="442.90" y="329.60" width="0.55" height="17.00" fill="rgb(17,17,17)"/>
<rect x="443.40" y="329.60" width="0.55" height="17.00" fill="rgb(127,127,127)"/>
<rect x="443.90" y="329.60" width="0.55" height="17.00" fill="rgb(24,24,24)"/>
<rect x="444.40" y="329.60" width="0.55" height="17.00" fill="rgb(96,96,96)"/>
<rect x="444.90" y="329.60" width="0.55" height="17.00" fill="rgb(104,104,104)"/>
<rect x="445.40" y="329.60" width="0.55" height="17.00" fill="rgb(45,45,45)"/>
<rect x="445.90" y="329.60" width="0.55" height="17.00" fill="rgb(0,0,0)"/>
<rect x="446.40" y="329.60" width="0.55" height="17.00" fill="rgb(124,124,124)"/>
<rect x="446.90" y="329.60" width="0.55" height="17.00" fill="rgb(0,0,0)"/>
<rect x="447.40" y="329.60" width="0.55" height="17.00" fill="rgb(0,0,0)"/>
<rect x="447.90" y="329.60" width="0.55" height="17.00" fill="rgb(0,0,0)"/>
<rect x="448.40" y="329.60" width="0.55" height="17.00" fill="rgb(83,83,83)"/>
<rect x="449.40" y="329.60" width="0.55" height="17.00" fill="rgb(67,67,67)"/>
<rect x="449.90" y="329.60" width="0.55" height="17.00" fill="rgb(67,67,67)"/>
<rect x="450.40" y="329.60" width="0.55" height="17.00" fill="rgb(27,27,27)"/>
<rect x="450.90" y="329.60" width="0.55" height="17.00" fill="rgb(12,12,12)"/>
<rect x="451.40" y="329.60" width="0.55" height="17.00" fill="rgb(203,203,203)"/>
<rect x="451.90" y="329.60" width="0.55" height="17.00" fill="rgb(203,203,203)"/>
<rect x="452.40" y="329.60" width="0.55" height="17.00" fill="rgb(203,203,203)"/>
<rect x="452.90" y="329.60" width="0.55" height="17.00" fill="rgb(58,58,58)"/>
<rect x="453.40" y="329.60" width="0.55" height="17.00" fill="rgb(170,170,170)"/>
<rect x="453.90" y="329.60" width="0.55" height="17.00" fill="rgb(78,78,78)"/>
<rect x="454.40" y="329.60" width="0.55" height="17.00" fill="rgb(78,78,78)"/>
<rect x="454.90" y="329.60" width="0.55" height="17.00" fill="rgb(33,33,33)"/>
<rect x="455.40" y="329.60" width="0.55" height="17.00" fill="rgb(0,0,0)"/>
<rect x="455.90" y="329.60" width="0.55" height="17.00" fill="rgb(125,125,125)"/>
<rect x="456.90" y="329.60" width="0.55" height="17.00" fill="rgb(74,74,74)"/>
<rect x="457.40" y="329.60" width="0.55" height="17.00" fill="rgb(74,74,74)"/>
<rect x="457.90" y="329.60" width="0.55" height="17.00" fill="rgb(144,144,144)"/>
<rect x="458.40" y="329.60" width="0.55" height="17.00" fill="rgb(144,144,144)"/>
<rect x="458.90" y="329.60" width="0.55" height="17.00" fill="rgb(52,52,52)"/>
<rect x="459.40" y="329.60" width="0.55" height="17.00" fill="rgb(64,64,64)"/>
<rect x="459.90" y="329.60" width="0.55" height="17.00" fill="rgb(64,64,64)"/>
<rect x="460.40" y="329.60" width="0.55" height="17.00" fill="rgb(64,64,64)"/>
<rect x="460.90" y="329.60" width="0.55" height="17.00" fill="rgb(0,0,0)"/>
<rect x="461.40" y="329.60" width="0.55" height="17.00" fill="rgb(0,0,0)"/>
<rect x="461.90" y="329.60" width="0.55" height="17.00" fill="rgb(0,0,0)"/>
<rect x="462.40" y="329.60" width="0.55" height="17.00" fill="rgb(0,0,0)"/>
<rect x="462.90" y="329.60" width="0.55" height="17.00" fill="rgb(0,0,0)"/>
<rect x="463.40" y="329.60" width="0.55" height="17.00" fill="rgb(0,0,0)"/>
<rect x="463.90" y="329.60" width="0.55" height="17.00" fill="rgb(0,0,0)"/>
<rect x="464.40" y="329.60" width="0.55" height="17.00" fill="rgb(0,0,0)"/>
<rect x="464.90" y="329.60" width="0.55" height="17.00" fill="rgb(0,0,0)"/>
<rect x="465.40" y="329.60" width="0.55" height="17.00" fill="rgb(0,0,0)"/>
<rect x="465.90" y="329.60" width="0.55" height="17.00" fill="rgb(52,52,52)"/>
<rect x="466.40" y="329.60" width="0.55" height="17.00" fill="rgb(77,77,77)"/>
<rect x="466.90" y="329.60" width="0.55" height="17.00" fill="rgb(77,77,77)"/>
<rect x="467.40" y="329.60" width="0.55" height="17.00" fill="rgb(88,88,88)"/>
<rect x="467.90" y="329.60" width="0.55" height="17.00" fill="rgb(6,6,6)"/>
<rect x="468.40" y="329.60" width="0.55" height="17.00" fill="rgb(6,6,6)"/>
<rect x="468.90" y="329.60" width="0.55" height="17.00" fill="rgb(153,153,153)"/>
<rect x="469.40" y="329.60" width="0.55" height="17.00" fill="rgb(65,65,65)"/>
<rect x="469.90" y="329.60" width="0.55" height="17.00" fill="rgb(65,65,65)"/>
<rect x="470.40" y="329.60" width="0.55" height="17.00" fill="rgb(4,4,4)"/>
<rect x="470.90" y="329.60" width="0.55" height="17.00" fill="rgb(4,4,4)"/>
<rect x="471.40" y="329.60" width="0.55" height="17.00" fill="rgb(70,70,70)"/>
<rect x="471.90" y="329.60" width="0.55" height="17.00" fill="rgb(14,14,14)"/>
<rect x="472.40" y="329.60" width="0.55" height="17.00" fill="rgb(10,10,10)"/>
<rect x="472.90" y="329.60" width="0.55" height="17.00" fill="rgb(10,10,10)"/>
<rect x="473.40" y="329.60" width="0.55" height="17.00" fill="rgb(33,33,33)"/>
<rect x="473.90" y="329.60" width="0.55" height="17.00" fill="rgb(33,33,33)"/>
<rect x="366.20" y="346.60" width="109.60" height="3.70" fill="url(#gg)"/>
<line x1="365.70" y1="276.20" x2="365.70" y2="351.55" stroke="#231f20" stroke-width="1.3"/>
<line x1="481.60" y1="276.20" x2="481.60" y2="351.55" stroke="#231f20" stroke-width="1.3"/>
<line x1="362.70" y1="281.00" x2="365.70" y2="281.00" stroke="#231f20" stroke-width="1"/>
<text x="359.50" y="283.65" font-size="7.4" text-anchor="end" fill="#231f20" stroke="#231f20" stroke-width="0.14" textLength="3.70" lengthAdjust="spacingAndGlyphs">0</text>
<line x1="362.70" y1="288.20" x2="365.70" y2="288.20" stroke="#231f20" stroke-width="1"/>
<text x="359.50" y="290.85" font-size="7.4" text-anchor="end" fill="#231f20" stroke="#231f20" stroke-width="0.14" textLength="9.26" lengthAdjust="spacingAndGlyphs">0.1</text>
<line x1="362.70" y1="295.60" x2="365.70" y2="295.60" stroke="#231f20" stroke-width="1"/>
<text x="359.50" y="298.25" font-size="7.4" text-anchor="end" fill="#231f20" stroke="#231f20" stroke-width="0.14" textLength="9.26" lengthAdjust="spacingAndGlyphs">0.2</text>
<line x1="362.70" y1="302.90" x2="365.70" y2="302.90" stroke="#231f20" stroke-width="1"/>
<text x="359.50" y="305.55" font-size="7.4" text-anchor="end" fill="#231f20" stroke="#231f20" stroke-width="0.14" textLength="9.26" lengthAdjust="spacingAndGlyphs">0.3</text>
<line x1="362.70" y1="310.40" x2="365.70" y2="310.40" stroke="#231f20" stroke-width="1"/>
<text x="359.50" y="313.05" font-size="7.4" text-anchor="end" fill="#231f20" stroke="#231f20" stroke-width="0.14" textLength="9.26" lengthAdjust="spacingAndGlyphs">0.4</text>
<line x1="362.70" y1="317.80" x2="365.70" y2="317.80" stroke="#231f20" stroke-width="1"/>
<text x="359.50" y="320.45" font-size="7.4" text-anchor="end" fill="#231f20" stroke="#231f20" stroke-width="0.14" textLength="9.26" lengthAdjust="spacingAndGlyphs">0.5</text>
<line x1="362.70" y1="325.00" x2="365.70" y2="325.00" stroke="#231f20" stroke-width="1"/>
<text x="359.50" y="327.65" font-size="7.4" text-anchor="end" fill="#231f20" stroke="#231f20" stroke-width="0.14" textLength="9.26" lengthAdjust="spacingAndGlyphs">0.6</text>
<text x="416.90" y="254.90" font-size="9.5" fill="#231f20" stroke="#231f20" stroke-width="0.14" textLength="14.60" lengthAdjust="spacingAndGlyphs">LSK</text>
<text x="375.80" y="267.70" font-size="9.5" fill="#231f20" stroke="#231f20" stroke-width="0.14" textLength="96.10" lengthAdjust="spacingAndGlyphs">Hematopoietic stem cell</text>
<text x="425.90" y="289.51" font-size="7.3" fill="#8e2a36" stroke="#8e2a36" stroke-width="0.14" textLength="12.00" lengthAdjust="spacingAndGlyphs">NES</text>
<text x="467.80" y="289.51" font-size="7.3" text-anchor="end" fill="#8e2a36" stroke="#8e2a36" stroke-width="0.14" textLength="14.98" lengthAdjust="spacingAndGlyphs">-2.25</text>
<text x="425.90" y="299.81" font-size="7.3" fill="#231f20" stroke="#231f20" stroke-width="0.14" textLength="15.80" lengthAdjust="spacingAndGlyphs">NOM</text>
<text x="469.00" y="299.81" font-size="7.3" text-anchor="end" fill="#231f20" stroke="#231f20" stroke-width="0.14" textLength="12.79" lengthAdjust="spacingAndGlyphs">0.00</text>
<text x="425.90" y="309.81" font-size="7.3" fill="#231f20" stroke="#231f20" stroke-width="0.14" textLength="12.60" lengthAdjust="spacingAndGlyphs">FDR</text>
<text x="469.00" y="309.81" font-size="7.3" text-anchor="end" fill="#231f20" stroke="#231f20" stroke-width="0.14" textLength="12.79" lengthAdjust="spacingAndGlyphs">0.00</text>
<text transform="translate(340.20,309.30) rotate(-90)" x="0" y="3.01" font-size="8.4" text-anchor="middle" fill="#231f20" stroke="#231f20" stroke-width="0.14" textLength="85.00" lengthAdjust="spacingAndGlyphs">Enrichment score (ES)</text>
<text x="365.80" y="360.84" font-size="8.2" fill="#8e2a36" stroke="#8e2a36" stroke-width="0.14" textLength="41.50" lengthAdjust="spacingAndGlyphs">ΔTet2ΔE9-10</text>
<text x="471.00" y="360.84" font-size="8.2" fill="#231f20" stroke="#231f20" stroke-width="0.14" textLength="10.50" lengthAdjust="spacingAndGlyphs">WT</text>
<line x1="355.90" y1="372.70" x2="377.00" y2="372.70" stroke="#9ccc65" stroke-width="1.3"/>
<text x="380.20" y="375.42" font-size="7.6" fill="#231f20" stroke="#231f20" stroke-width="0.14" textLength="61.40" lengthAdjust="spacingAndGlyphs">Enrichment profile</text>
<line x1="453.50" y1="372.70" x2="474.20" y2="372.70" stroke="#3a3a3a" stroke-width="1.3"/>
<text x="477.70" y="375.42" font-size="7.6" fill="#231f20" stroke="#231f20" stroke-width="0.14" textLength="12.80" lengthAdjust="spacingAndGlyphs">Hits</text>
<line x1="54.20" y1="455.00" x2="54.20" y2="505.30" stroke="#efefef" stroke-width="0.5"/>
<line x1="70.30" y1="455.00" x2="70.30" y2="505.30" stroke="#efefef" stroke-width="0.5"/>
<line x1="86.40" y1="455.00" x2="86.40" y2="505.30" stroke="#efefef" stroke-width="0.5"/>
<line x1="102.50" y1="455.00" x2="102.50" y2="505.30" stroke="#efefef" stroke-width="0.5"/>
<line x1="118.60" y1="455.00" x2="118.60" y2="505.30" stroke="#efefef" stroke-width="0.5"/>
<line x1="134.70" y1="455.00" x2="134.70" y2="505.30" stroke="#efefef" stroke-width="0.5"/>
<line x1="39.10" y1="454.30" x2="153.00" y2="454.30" stroke="#efefef" stroke-width="0.5"/>
<line x1="39.10" y1="461.20" x2="153.00" y2="461.20" stroke="#efefef" stroke-width="0.5"/>
<line x1="39.10" y1="468.10" x2="153.00" y2="468.10" stroke="#efefef" stroke-width="0.5"/>
<line x1="39.10" y1="475.00" x2="153.00" y2="475.00" stroke="#efefef" stroke-width="0.5"/>
<line x1="39.10" y1="481.90" x2="153.00" y2="481.90" stroke="#efefef" stroke-width="0.5"/>
<line x1="39.10" y1="488.90" x2="153.00" y2="488.90" stroke="#efefef" stroke-width="0.5"/>
<line x1="39.10" y1="495.80" x2="153.00" y2="495.80" stroke="#efefef" stroke-width="0.5"/>
<path d="M38.30,502.50 L38.50,497.30 L40.00,498.40 L40.80,496.10 L42.90,488.10 L45.20,476.50 L47.50,470.80 L49.80,465.00 L51.60,461.00 L54.50,458.70 L57.30,458.10 L59.10,457.20 L62.50,456.90 L66.00,458.70 L70.60,461.00 L82.10,467.90 L94.00,475.00 L100.00,478.60 L105.90,482.20 L111.90,485.20 L117.80,488.70 L123.80,491.70 L129.80,495.10 L135.70,497.90 L141.70,500.10 L145.30,501.80 L147.00,501.80" fill="none" stroke="#84ec48" stroke-width="1.55" stroke-linejoin="round"/>
<line x1="38.10" y1="454.00" x2="154.00" y2="454.00" stroke="#231f20" stroke-width="1.4"/>
<line x1="38.10" y1="502.60" x2="154.00" y2="502.60" stroke="#231f20" stroke-width="1.4"/>
<line x1="38.10" y1="506.30" x2="154.00" y2="506.30" stroke="#231f20" stroke-width="1.4"/>
<line x1="38.10" y1="527.40" x2="154.00" y2="527.40" stroke="#231f20" stroke-width="1.3"/>
<rect x="38.80" y="507.10" width="0.55" height="15.80" fill="rgb(66,66,66)"/>
<rect x="39.30" y="507.10" width="0.55" height="15.80" fill="rgb(66,66,66)"/>
<rect x="39.80" y="507.10" width="0.55" height="15.80" fill="rgb(66,66,66)"/>
<rect x="40.30" y="507.10" width="0.55" height="15.80" fill="rgb(66,66,66)"/>
<rect x="40.80" y="507.10" width="0.55" height="15.80" fill="rgb(81,81,81)"/>
<rect x="41.30" y="507.10" width="0.55" height="15.80" fill="rgb(72,72,72)"/>
<rect x="41.80" y="507.10" width="0.55" height="15.80" fill="rgb(72,72,72)"/>
<rect x="42.30" y="507.10" width="0.55" height="15.80" fill="rgb(72,72,72)"/>
<rect x="42.80" y="507.10" width="0.55" height="15.80" fill="rgb(85,85,85)"/>
<rect x="43.30" y="507.10" width="0.55" height="15.80" fill="rgb(79,79,79)"/>
<rect x="43.80" y="507.10" width="0.55" height="15.80" fill="rgb(79,79,79)"/>
<rect x="45.30" y="507.10" width="0.55" height="15.80" fill="rgb(110,110,110)"/>
<rect x="45.80" y="507.10" width="0.55" height="15.80" fill="rgb(110,110,110)"/>
<rect x="46.30" y="507.10" width="0.55" height="15.80" fill="rgb(20,20,20)"/>
<rect x="46.80" y="507.10" width="0.55" height="15.80" fill="rgb(20,20,20)"/>
<rect x="47.30" y="507.10" width="0.55" height="15.80" fill="rgb(20,20,20)"/>
<rect x="47.80" y="507.10" width="0.55" height="15.80" fill="rgb(29,29,29)"/>
<rect x="48.30" y="507.10" width="0.55" height="15.80" fill="rgb(19,19,19)"/>
<rect x="48.80" y="507.10" width="0.55" height="15.80" fill="rgb(19,19,19)"/>
<rect x="49.30" y="507.10" width="0.55" height="15.80" fill="rgb(19,19,19)"/>
<rect x="49.80" y="507.10" width="0.55" height="15.80" fill="rgb(0,0,0)"/>
<rect x="50.30" y="507.10" width="0.55" height="15.80" fill="rgb(0,0,0)"/>
<rect x="50.80" y="507.10" width="0.55" height="15.80" fill="rgb(0,0,0)"/>
<rect x="51.30" y="507.10" width="0.55" height="15.80" fill="rgb(20,20,20)"/>
<rect x="51.80" y="507.10" width="0.55" height="15.80" fill="rgb(20,20,20)"/>
<rect x="52.30" y="507.10" width="0.55" height="15.80" fill="rgb(20,20,20)"/>
<rect x="52.80" y="507.10" width="0.55" height="15.80" fill="rgb(115,115,115)"/>
<rect x="53.30" y="507.10" width="0.55" height="15.80" fill="rgb(115,115,115)"/>
<rect x="53.80" y="507.10" width="0.55" height="15.80" fill="rgb(115,115,115)"/>
<rect x="54.30" y="507.10" width="0.55" height="15.80" fill="rgb(115,115,115)"/>
<rect x="54.80" y="507.10" width="0.55" height="15.80" fill="rgb(118,118,118)"/>
<rect x="55.30" y="507.10" width="0.55" height="15.80" fill="rgb(105,105,105)"/>
<rect x="55.80" y="507.10" width="0.55" height="15.80" fill="rgb(155,155,155)"/>
<rect x="56.30" y="507.10" width="0.55" height="15.80" fill="rgb(81,81,81)"/>
<rect x="56.80" y="507.10" width="0.55" height="15.80" fill="rgb(111,111,111)"/>
<rect x="57.30" y="507.10" width="0.55" height="15.80" fill="rgb(111,111,111)"/>
<rect x="57.80" y="507.10" width="0.55" height="15.80" fill="rgb(111,111,111)"/>
<rect x="60.80" y="507.10" width="0.55" height="15.80" fill="rgb(123,123,123)"/>
<rect x="61.30" y="507.10" width="0.55" height="15.80" fill="rgb(62,62,62)"/>
<rect x="61.80" y="507.10" width="0.55" height="15.80" fill="rgb(62,62,62)"/>
<rect x="62.30" y="507.10" width="0.55" height="15.80" fill="rgb(134,134,134)"/>
<rect x="62.80" y="507.10" width="0.55" height="15.80" fill="rgb(134,134,134)"/>
<rect x="63.30" y="507.10" width="0.55" height="15.80" fill="rgb(134,134,134)"/>
<rect x="63.80" y="507.10" width="0.55" height="15.80" fill="rgb(111,111,111)"/>
<rect x="64.30" y="507.10" width="0.55" height="15.80" fill="rgb(111,111,111)"/>
<rect x="64.80" y="507.10" width="0.55" height="15.80" fill="rgb(104,104,104)"/>
<rect x="65.30" y="507.10" width="0.55" height="15.80" fill="rgb(63,63,63)"/>
<rect x="65.80" y="507.10" width="0.55" height="15.80" fill="rgb(105,105,105)"/>
<rect x="66.30" y="507.10" width="0.55" height="15.80" fill="rgb(176,176,176)"/>
<rect x="66.80" y="507.10" width="0.55" height="15.80" fill="rgb(124,124,124)"/>
<rect x="67.30" y="507.10" width="0.55" height="15.80" fill="rgb(89,89,89)"/>
<rect x="67.80" y="507.10" width="0.55" height="15.80" fill="rgb(74,74,74)"/>
<rect x="68.30" y="507.10" width="0.55" height="15.80" fill="rgb(147,147,147)"/>
<rect x="68.80" y="507.10" width="0.55" height="15.80" fill="rgb(147,147,147)"/>
<rect x="69.30" y="507.10" width="0.55" height="15.80" fill="rgb(147,147,147)"/>
<rect x="69.80" y="507.10" width="0.55" height="15.80" fill="rgb(147,147,147)"/>
<rect x="70.30" y="507.10" width="0.55" height="15.80" fill="rgb(249,249,249)"/>
<rect x="70.80" y="507.10" width="0.55" height="15.80" fill="rgb(249,249,249)"/>
<rect x="71.30" y="507.10" width="0.55" height="15.80" fill="rgb(165,165,165)"/>
<rect x="71.80" y="507.10" width="0.55" height="15.80" fill="rgb(109,109,109)"/>
<rect x="72.30" y="507.10" width="0.55" height="15.80" fill="rgb(77,77,77)"/>
<rect x="72.80" y="507.10" width="0.55" height="15.80" fill="rgb(77,77,77)"/>
<rect x="73.30" y="507.10" width="0.55" height="15.80" fill="rgb(194,194,194)"/>
<rect x="73.80" y="507.10" width="0.55" height="15.80" fill="rgb(203,203,203)"/>
<rect x="74.30" y="507.10" width="0.55" height="15.80" fill="rgb(129,129,129)"/>
<rect x="74.80" y="507.10" width="0.55" height="15.80" fill="rgb(129,129,129)"/>
<rect x="75.30" y="507.10" width="0.55" height="15.80" fill="rgb(139,139,139)"/>
<rect x="76.30" y="507.10" width="0.55" height="15.80" fill="rgb(133,133,133)"/>
<rect x="76.80" y="507.10" width="0.55" height="15.80" fill="rgb(133,133,133)"/>
<rect x="77.30" y="507.10" width="0.55" height="15.80" fill="rgb(147,147,147)"/>
<rect x="77.80" y="507.10" width="0.55" height="15.80" fill="rgb(129,129,129)"/>
<rect x="91.30" y="507.10" width="0.55" height="15.80" fill="rgb(104,104,104)"/>
<rect x="91.80" y="507.10" width="0.55" height="15.80" fill="rgb(104,104,104)"/>
<rect x="92.30" y="507.10" width="0.55" height="15.80" fill="rgb(104,104,104)"/>
<rect x="92.80" y="507.10" width="0.55" height="15.80" fill="rgb(143,143,143)"/>
<rect x="100.80" y="507.10" width="0.55" height="15.80" fill="rgb(83,83,83)"/>
<rect x="101.30" y="507.10" width="0.55" height="15.80" fill="rgb(83,83,83)"/>
<rect x="101.80" y="507.10" width="0.55" height="15.80" fill="rgb(83,83,83)"/>
<rect x="102.30" y="507.10" width="0.55" height="15.80" fill="rgb(229,229,229)"/>
<rect x="102.80" y="507.10" width="0.55" height="15.80" fill="rgb(229,229,229)"/>
<rect x="108.30" y="507.10" width="0.55" height="15.80" fill="rgb(214,214,214)"/>
<rect x="110.30" y="507.10" width="0.55" height="15.80" fill="rgb(125,125,125)"/>
<rect x="110.80" y="507.10" width="0.55" height="15.80" fill="rgb(125,125,125)"/>
<rect x="111.30" y="507.10" width="0.55" height="15.80" fill="rgb(125,125,125)"/>
<rect x="111.80" y="507.10" width="0.55" height="15.80" fill="rgb(125,125,125)"/>
<rect x="112.30" y="507.10" width="0.55" height="15.80" fill="rgb(125,125,125)"/>
<rect x="112.80" y="507.10" width="0.55" height="15.80" fill="rgb(125,125,125)"/>
<rect x="119.80" y="507.10" width="0.55" height="15.80" fill="rgb(40,40,40)"/>
<rect x="120.30" y="507.10" width="0.55" height="15.80" fill="rgb(40,40,40)"/>
<rect x="123.30" y="507.10" width="0.55" height="15.80" fill="rgb(137,137,137)"/>
<rect x="123.80" y="507.10" width="0.55" height="15.80" fill="rgb(137,137,137)"/>
<rect x="124.30" y="507.10" width="0.55" height="15.80" fill="rgb(137,137,137)"/>
<rect x="124.80" y="507.10" width="0.55" height="15.80" fill="rgb(137,137,137)"/>
<rect x="125.30" y="507.10" width="0.55" height="15.80" fill="rgb(137,137,137)"/>
<rect x="125.80" y="507.10" width="0.55" height="15.80" fill="rgb(137,137,137)"/>
<rect x="126.30" y="507.10" width="0.55" height="15.80" fill="rgb(137,137,137)"/>
<rect x="126.80" y="507.10" width="0.55" height="15.80" fill="rgb(137,137,137)"/>
<rect x="127.80" y="507.10" width="0.55" height="15.80" fill="rgb(178,178,178)"/>
<rect x="128.30" y="507.10" width="0.55" height="15.80" fill="rgb(113,113,113)"/>
<rect x="131.80" y="507.10" width="0.55" height="15.80" fill="rgb(145,145,145)"/>
<rect x="132.30" y="507.10" width="0.55" height="15.80" fill="rgb(104,104,104)"/>
<rect x="132.80" y="507.10" width="0.55" height="15.80" fill="rgb(104,104,104)"/>
<rect x="135.30" y="507.10" width="0.55" height="15.80" fill="rgb(174,174,174)"/>
<rect x="136.80" y="507.10" width="0.55" height="15.80" fill="rgb(189,189,189)"/>
<rect x="139.80" y="507.10" width="0.55" height="15.80" fill="rgb(149,149,149)"/>
<rect x="38.60" y="522.90" width="109.20" height="3.90" fill="url(#gg)"/>
<line x1="38.10" y1="453.30" x2="38.10" y2="528.05" stroke="#231f20" stroke-width="1.3"/>
<line x1="154.00" y1="453.30" x2="154.00" y2="528.05" stroke="#231f20" stroke-width="1.3"/>
<line x1="35.10" y1="454.30" x2="38.10" y2="454.30" stroke="#231f20" stroke-width="1"/>
<text x="31.90" y="456.95" font-size="7.4" text-anchor="end" fill="#231f20" stroke="#231f20" stroke-width="0.14" textLength="9.26" lengthAdjust="spacingAndGlyphs">0.7</text>
<line x1="35.10" y1="461.20" x2="38.10" y2="461.20" stroke="#231f20" stroke-width="1"/>
<text x="31.90" y="463.85" font-size="7.4" text-anchor="end" fill="#231f20" stroke="#231f20" stroke-width="0.14" textLength="9.26" lengthAdjust="spacingAndGlyphs">0.6</text>
<line x1="35.10" y1="468.10" x2="38.10" y2="468.10" stroke="#231f20" stroke-width="1"/>
<text x="31.90" y="470.75" font-size="7.4" text-anchor="end" fill="#231f20" stroke="#231f20" stroke-width="0.14" textLength="9.26" lengthAdjust="spacingAndGlyphs">0.5</text>
<line x1="35.10" y1="475.00" x2="38.10" y2="475.00" stroke="#231f20" stroke-width="1"/>
<text x="31.90" y="477.65" font-size="7.4" text-anchor="end" fill="#231f20" stroke="#231f20" stroke-width="0.14" textLength="9.26" lengthAdjust="spacingAndGlyphs">0.4</text>
<line x1="35.10" y1="481.90" x2="38.10" y2="481.90" stroke="#231f20" stroke-width="1"/>
<text x="31.90" y="484.55" font-size="7.4" text-anchor="end" fill="#231f20" stroke="#231f20" stroke-width="0.14" textLength="9.26" lengthAdjust="spacingAndGlyphs">0.3</text>
<line x1="35.10" y1="488.90" x2="38.10" y2="488.90" stroke="#231f20" stroke-width="1"/>
<text x="31.90" y="491.55" font-size="7.4" text-anchor="end" fill="#231f20" stroke="#231f20" stroke-width="0.14" textLength="9.26" lengthAdjust="spacingAndGlyphs">0.2</text>
<line x1="35.10" y1="495.80" x2="38.10" y2="495.80" stroke="#231f20" stroke-width="1"/>
<text x="31.90" y="498.45" font-size="7.4" text-anchor="end" fill="#231f20" stroke="#231f20" stroke-width="0.14" textLength="9.26" lengthAdjust="spacingAndGlyphs">0.1</text>
<line x1="35.10" y1="502.70" x2="38.10" y2="502.70" stroke="#231f20" stroke-width="1"/>
<text x="31.90" y="505.35" font-size="7.4" text-anchor="end" fill="#231f20" stroke="#231f20" stroke-width="0.14" textLength="3.70" lengthAdjust="spacingAndGlyphs">0</text>
<text x="81.80" y="434.60" font-size="9.5" fill="#231f20" stroke="#231f20" stroke-width="0.14" textLength="14.70" lengthAdjust="spacingAndGlyphs">LSK</text>
<text x="70.00" y="448.00" font-size="9.5" fill="#231f20" stroke="#231f20" stroke-width="0.14" textLength="52.00" lengthAdjust="spacingAndGlyphs">E2F3_Targets</text>
<text x="109.50" y="462.11" font-size="7.3" fill="#8e2a36" stroke="#8e2a36" stroke-width="0.14" textLength="12.00" lengthAdjust="spacingAndGlyphs">NES</text>
<text x="148.20" y="462.11" font-size="7.3" text-anchor="end" fill="#8e2a36" stroke="#8e2a36" stroke-width="0.14" textLength="12.79" lengthAdjust="spacingAndGlyphs">2.23</text>
<text x="109.50" y="471.91" font-size="7.3" fill="#231f20" stroke="#231f20" stroke-width="0.14" textLength="15.80" lengthAdjust="spacingAndGlyphs">NOM</text>
<text x="149.40" y="471.91" font-size="7.3" text-anchor="end" fill="#231f20" stroke="#231f20" stroke-width="0.14" textLength="12.79" lengthAdjust="spacingAndGlyphs">0.00</text>
<text x="109.50" y="482.21" font-size="7.3" fill="#231f20" stroke="#231f20" stroke-width="0.14" textLength="12.60" lengthAdjust="spacingAndGlyphs">FDR</text>
<text x="149.40" y="482.21" font-size="7.3" text-anchor="end" fill="#231f20" stroke="#231f20" stroke-width="0.14" textLength="12.79" lengthAdjust="spacingAndGlyphs">0.00</text>
<text transform="translate(13.00,485.70) rotate(-90)" x="0" y="3.01" font-size="8.4" text-anchor="middle" fill="#231f20" stroke="#231f20" stroke-width="0.14" textLength="85.40" lengthAdjust="spacingAndGlyphs">Enrichment score (ES)</text>
<text x="37.70" y="537.94" font-size="8.2" fill="#8e2a36" stroke="#8e2a36" stroke-width="0.14" textLength="41.50" lengthAdjust="spacingAndGlyphs">ΔTet2ΔE9-10</text>
<text x="142.60" y="537.94" font-size="8.2" fill="#231f20" stroke="#231f20" stroke-width="0.14" textLength="11.40" lengthAdjust="spacingAndGlyphs">WT</text>
<line x1="222.00" y1="455.00" x2="222.00" y2="505.80" stroke="#efefef" stroke-width="0.5"/>
<line x1="240.50" y1="455.00" x2="240.50" y2="505.80" stroke="#efefef" stroke-width="0.5"/>
<line x1="259.00" y1="455.00" x2="259.00" y2="505.80" stroke="#efefef" stroke-width="0.5"/>
<line x1="277.50" y1="455.00" x2="277.50" y2="505.80" stroke="#efefef" stroke-width="0.5"/>
<line x1="296.00" y1="455.00" x2="296.00" y2="505.80" stroke="#efefef" stroke-width="0.5"/>
<line x1="204.60" y1="454.30" x2="318.60" y2="454.30" stroke="#efefef" stroke-width="0.5"/>
<line x1="204.60" y1="461.20" x2="318.60" y2="461.20" stroke="#efefef" stroke-width="0.5"/>
<line x1="204.60" y1="468.40" x2="318.60" y2="468.40" stroke="#efefef" stroke-width="0.5"/>
<line x1="204.60" y1="475.40" x2="318.60" y2="475.40" stroke="#efefef" stroke-width="0.5"/>
<line x1="204.60" y1="482.60" x2="318.60" y2="482.60" stroke="#efefef" stroke-width="0.5"/>
<line x1="204.60" y1="497.00" x2="318.60" y2="497.00" stroke="#efefef" stroke-width="0.5"/>
<line x1="204.60" y1="504.30" x2="318.60" y2="504.30" stroke="#efefef" stroke-width="0.5"/>
<path d="M204.00,489.00 L204.20,487.00 L204.50,479.80 L205.40,467.90 L206.60,461.30 L208.90,458.90 L211.30,456.90 L214.30,457.70 L220.30,459.80 L225.00,461.00 L229.80,463.10 L235.80,466.70 L247.70,473.80 L260.00,481.20 L266.00,485.20 L271.90,488.70 L277.90,492.30 L283.80,495.30 L289.80,498.30 L295.80,500.70 L301.70,502.40 L304.70,503.00 L307.70,504.20 L309.50,503.60 L311.30,502.40 L313.00,498.90 L314.20,494.10 L314.60,490.50" fill="none" stroke="#84ec48" stroke-width="1.55" stroke-linejoin="round"/>
<line x1="203.60" y1="454.00" x2="319.60" y2="454.00" stroke="#231f20" stroke-width="1.4"/>
<line x1="203.60" y1="489.80" x2="319.60" y2="489.80" stroke="#231f20" stroke-width="1.4"/>
<line x1="203.60" y1="506.80" x2="319.60" y2="506.80" stroke="#231f20" stroke-width="1.4"/>
<line x1="203.60" y1="528.10" x2="319.60" y2="528.10" stroke="#231f20" stroke-width="1.3"/>
<rect x="204.30" y="507.60" width="0.55" height="16.20" fill="rgb(184,184,184)"/>
<rect x="204.80" y="507.60" width="0.55" height="16.20" fill="rgb(184,184,184)"/>
<rect x="205.30" y="507.60" width="0.55" height="16.20" fill="rgb(184,184,184)"/>
<rect x="205.80" y="507.60" width="0.55" height="16.20" fill="rgb(184,184,184)"/>
<rect x="206.30" y="507.60" width="0.55" height="16.20" fill="rgb(184,184,184)"/>
<rect x="207.30" y="507.60" width="0.55" height="16.20" fill="rgb(240,240,240)"/>
<rect x="207.80" y="507.60" width="0.55" height="16.20" fill="rgb(240,240,240)"/>
<rect x="208.30" y="507.60" width="0.55" height="16.20" fill="rgb(240,240,240)"/>
<rect x="208.80" y="507.60" width="0.55" height="16.20" fill="rgb(95,95,95)"/>
<rect x="209.30" y="507.60" width="0.55" height="16.20" fill="rgb(95,95,95)"/>
<rect x="209.80" y="507.60" width="0.55" height="16.20" fill="rgb(136,136,136)"/>
<rect x="210.30" y="507.60" width="0.55" height="16.20" fill="rgb(145,145,145)"/>
<rect x="211.30" y="507.60" width="0.55" height="16.20" fill="rgb(138,138,138)"/>
<rect x="211.80" y="507.60" width="0.55" height="16.20" fill="rgb(138,138,138)"/>
<rect x="212.30" y="507.60" width="0.55" height="16.20" fill="rgb(138,138,138)"/>
<rect x="212.80" y="507.60" width="0.55" height="16.20" fill="rgb(138,138,138)"/>
<rect x="213.30" y="507.60" width="0.55" height="16.20" fill="rgb(138,138,138)"/>
<rect x="213.80" y="507.60" width="0.55" height="16.20" fill="rgb(138,138,138)"/>
<rect x="214.30" y="507.60" width="0.55" height="16.20" fill="rgb(213,213,213)"/>
<rect x="214.80" y="507.60" width="0.55" height="16.20" fill="rgb(228,228,228)"/>
<rect x="215.30" y="507.60" width="0.55" height="16.20" fill="rgb(228,228,228)"/>
<rect x="215.80" y="507.60" width="0.55" height="16.20" fill="rgb(172,172,172)"/>
<rect x="216.30" y="507.60" width="0.55" height="16.20" fill="rgb(172,172,172)"/>
<rect x="216.80" y="507.60" width="0.55" height="16.20" fill="rgb(172,172,172)"/>
<rect x="217.30" y="507.60" width="0.55" height="16.20" fill="rgb(215,215,215)"/>
<rect x="217.80" y="507.60" width="0.55" height="16.20" fill="rgb(215,215,215)"/>
<rect x="218.30" y="507.60" width="0.55" height="16.20" fill="rgb(215,215,215)"/>
<rect x="218.80" y="507.60" width="0.55" height="16.20" fill="rgb(215,215,215)"/>
<rect x="219.30" y="507.60" width="0.55" height="16.20" fill="rgb(215,215,215)"/>
<rect x="219.80" y="507.60" width="0.55" height="16.20" fill="rgb(215,215,215)"/>
<rect x="220.30" y="507.60" width="0.55" height="16.20" fill="rgb(215,215,215)"/>
<rect x="220.80" y="507.60" width="0.55" height="16.20" fill="rgb(215,215,215)"/>
<rect x="221.30" y="507.60" width="0.55" height="16.20" fill="rgb(215,215,215)"/>
<rect x="221.80" y="507.60" width="0.55" height="16.20" fill="rgb(122,122,122)"/>
<rect x="222.30" y="507.60" width="0.55" height="16.20" fill="rgb(122,122,122)"/>
<rect x="222.80" y="507.60" width="0.55" height="16.20" fill="rgb(111,111,111)"/>
<rect x="223.30" y="507.60" width="0.55" height="16.20" fill="rgb(133,133,133)"/>
<rect x="224.80" y="507.60" width="0.55" height="16.20" fill="rgb(129,129,129)"/>
<rect x="225.30" y="507.60" width="0.55" height="16.20" fill="rgb(177,177,177)"/>
<rect x="226.30" y="507.60" width="0.55" height="16.20" fill="rgb(148,148,148)"/>
<rect x="226.80" y="507.60" width="0.55" height="16.20" fill="rgb(179,179,179)"/>
<rect x="227.30" y="507.60" width="0.55" height="16.20" fill="rgb(149,149,149)"/>
<rect x="227.80" y="507.60" width="0.55" height="16.20" fill="rgb(149,149,149)"/>
<rect x="228.30" y="507.60" width="0.55" height="16.20" fill="rgb(149,149,149)"/>
<rect x="230.30" y="507.60" width="0.55" height="16.20" fill="rgb(192,192,192)"/>
<rect x="237.80" y="507.60" width="0.55" height="16.20" fill="rgb(224,224,224)"/>
<rect x="238.30" y="507.60" width="0.55" height="16.20" fill="rgb(224,224,224)"/>
<rect x="238.80" y="507.60" width="0.55" height="16.20" fill="rgb(224,224,224)"/>
<rect x="239.30" y="507.60" width="0.55" height="16.20" fill="rgb(129,129,129)"/>
<rect x="239.80" y="507.60" width="0.55" height="16.20" fill="rgb(186,186,186)"/>
<rect x="240.30" y="507.60" width="0.55" height="16.20" fill="rgb(186,186,186)"/>
<rect x="240.80" y="507.60" width="0.55" height="16.20" fill="rgb(242,242,242)"/>
<rect x="241.30" y="507.60" width="0.55" height="16.20" fill="rgb(242,242,242)"/>
<rect x="241.80" y="507.60" width="0.55" height="16.20" fill="rgb(242,242,242)"/>
<rect x="242.30" y="507.60" width="0.55" height="16.20" fill="rgb(242,242,242)"/>
<rect x="242.80" y="507.60" width="0.55" height="16.20" fill="rgb(242,242,242)"/>
<rect x="243.30" y="507.60" width="0.55" height="16.20" fill="rgb(242,242,242)"/>
<rect x="243.80" y="507.60" width="0.55" height="16.20" fill="rgb(242,242,242)"/>
<rect x="244.30" y="507.60" width="0.55" height="16.20" fill="rgb(242,242,242)"/>
<rect x="244.80" y="507.60" width="0.55" height="16.20" fill="rgb(46,46,46)"/>
<rect x="245.30" y="507.60" width="0.55" height="16.20" fill="rgb(46,46,46)"/>
<rect x="245.80" y="507.60" width="0.55" height="16.20" fill="rgb(46,46,46)"/>
<rect x="246.30" y="507.60" width="0.55" height="16.20" fill="rgb(140,140,140)"/>
<rect x="246.80" y="507.60" width="0.55" height="16.20" fill="rgb(140,140,140)"/>
<rect x="247.30" y="507.60" width="0.55" height="16.20" fill="rgb(140,140,140)"/>
<rect x="247.80" y="507.60" width="0.55" height="16.20" fill="rgb(140,140,140)"/>
<rect x="248.80" y="507.60" width="0.55" height="16.20" fill="rgb(161,161,161)"/>
<rect x="249.30" y="507.60" width="0.55" height="16.20" fill="rgb(161,161,161)"/>
<rect x="249.80" y="507.60" width="0.55" height="16.20" fill="rgb(161,161,161)"/>
<rect x="250.30" y="507.60" width="0.55" height="16.20" fill="rgb(161,161,161)"/>
<rect x="250.80" y="507.60" width="0.55" height="16.20" fill="rgb(161,161,161)"/>
<rect x="251.30" y="507.60" width="0.55" height="16.20" fill="rgb(90,90,90)"/>
<rect x="251.80" y="507.60" width="0.55" height="16.20" fill="rgb(90,90,90)"/>
<rect x="252.80" y="507.60" width="0.55" height="16.20" fill="rgb(88,88,88)"/>
<rect x="253.30" y="507.60" width="0.55" height="16.20" fill="rgb(88,88,88)"/>
<rect x="253.80" y="507.60" width="0.55" height="16.20" fill="rgb(88,88,88)"/>
<rect x="254.30" y="507.60" width="0.55" height="16.20" fill="rgb(88,88,88)"/>
<rect x="256.80" y="507.60" width="0.55" height="16.20" fill="rgb(187,187,187)"/>
<rect x="257.30" y="507.60" width="0.55" height="16.20" fill="rgb(81,81,81)"/>
<rect x="257.80" y="507.60" width="0.55" height="16.20" fill="rgb(170,170,170)"/>
<rect x="258.30" y="507.60" width="0.55" height="16.20" fill="rgb(80,80,80)"/>
<rect x="258.80" y="507.60" width="0.55" height="16.20" fill="rgb(80,80,80)"/>
<rect x="259.30" y="507.60" width="0.55" height="16.20" fill="rgb(80,80,80)"/>
<rect x="259.80" y="507.60" width="0.55" height="16.20" fill="rgb(245,245,245)"/>
<rect x="260.30" y="507.60" width="0.55" height="16.20" fill="rgb(98,98,98)"/>
<rect x="260.80" y="507.60" width="0.55" height="16.20" fill="rgb(98,98,98)"/>
<rect x="261.30" y="507.60" width="0.55" height="16.20" fill="rgb(98,98,98)"/>
<rect x="261.80" y="507.60" width="0.55" height="16.20" fill="rgb(98,98,98)"/>
<rect x="262.80" y="507.60" width="0.55" height="16.20" fill="rgb(155,155,155)"/>
<rect x="263.30" y="507.60" width="0.55" height="16.20" fill="rgb(213,213,213)"/>
<rect x="263.80" y="507.60" width="0.55" height="16.20" fill="rgb(108,108,108)"/>
<rect x="264.30" y="507.60" width="0.55" height="16.20" fill="rgb(108,108,108)"/>
<rect x="265.80" y="507.60" width="0.55" height="16.20" fill="rgb(155,155,155)"/>
<rect x="266.30" y="507.60" width="0.55" height="16.20" fill="rgb(155,155,155)"/>
<rect x="266.80" y="507.60" width="0.55" height="16.20" fill="rgb(155,155,155)"/>
<rect x="267.30" y="507.60" width="0.55" height="16.20" fill="rgb(155,155,155)"/>
<rect x="267.80" y="507.60" width="0.55" height="16.20" fill="rgb(155,155,155)"/>
<rect x="268.30" y="507.60" width="0.55" height="16.20" fill="rgb(155,155,155)"/>
<rect x="268.80" y="507.60" width="0.55" height="16.20" fill="rgb(47,47,47)"/>
<rect x="269.80" y="507.60" width="0.55" height="16.20" fill="rgb(55,55,55)"/>
<rect x="270.30" y="507.60" width="0.55" height="16.20" fill="rgb(55,55,55)"/>
<rect x="270.80" y="507.60" width="0.55" height="16.20" fill="rgb(55,55,55)"/>
<rect x="271.30" y="507.60" width="0.55" height="16.20" fill="rgb(126,126,126)"/>
<rect x="271.80" y="507.60" width="0.55" height="16.20" fill="rgb(126,126,126)"/>
<rect x="272.30" y="507.60" width="0.55" height="16.20" fill="rgb(126,126,126)"/>
<rect x="274.30" y="507.60" width="0.55" height="16.20" fill="rgb(94,94,94)"/>
<rect x="275.80" y="507.60" width="0.55" height="16.20" fill="rgb(159,159,159)"/>
<rect x="276.30" y="507.60" width="0.55" height="16.20" fill="rgb(159,159,159)"/>
<rect x="278.80" y="507.60" width="0.55" height="16.20" fill="rgb(148,148,148)"/>
<rect x="279.30" y="507.60" width="0.55" height="16.20" fill="rgb(80,80,80)"/>
<rect x="280.80" y="507.60" width="0.55" height="16.20" fill="rgb(142,142,142)"/>
<rect x="281.30" y="507.60" width="0.55" height="16.20" fill="rgb(127,127,127)"/>
<rect x="281.80" y="507.60" width="0.55" height="16.20" fill="rgb(45,45,45)"/>
<rect x="282.30" y="507.60" width="0.55" height="16.20" fill="rgb(72,72,72)"/>
<rect x="282.80" y="507.60" width="0.55" height="16.20" fill="rgb(160,160,160)"/>
<rect x="283.30" y="507.60" width="0.55" height="16.20" fill="rgb(227,227,227)"/>
<rect x="283.80" y="507.60" width="0.55" height="16.20" fill="rgb(227,227,227)"/>
<rect x="284.30" y="507.60" width="0.55" height="16.20" fill="rgb(70,70,70)"/>
<rect x="284.80" y="507.60" width="0.55" height="16.20" fill="rgb(117,117,117)"/>
<rect x="285.30" y="507.60" width="0.55" height="16.20" fill="rgb(221,221,221)"/>
<rect x="285.80" y="507.60" width="0.55" height="16.20" fill="rgb(221,221,221)"/>
<rect x="286.30" y="507.60" width="0.55" height="16.20" fill="rgb(75,75,75)"/>
<rect x="286.80" y="507.60" width="0.55" height="16.20" fill="rgb(97,97,97)"/>
<rect x="287.30" y="507.60" width="0.55" height="16.20" fill="rgb(161,161,161)"/>
<rect x="287.80" y="507.60" width="0.55" height="16.20" fill="rgb(89,89,89)"/>
<rect x="288.30" y="507.60" width="0.55" height="16.20" fill="rgb(89,89,89)"/>
<rect x="288.80" y="507.60" width="0.55" height="16.20" fill="rgb(116,116,116)"/>
<rect x="289.30" y="507.60" width="0.55" height="16.20" fill="rgb(207,207,207)"/>
<rect x="292.30" y="507.60" width="0.55" height="16.20" fill="rgb(107,107,107)"/>
<rect x="292.80" y="507.60" width="0.55" height="16.20" fill="rgb(102,102,102)"/>
<rect x="293.30" y="507.60" width="0.55" height="16.20" fill="rgb(102,102,102)"/>
<rect x="293.80" y="507.60" width="0.55" height="16.20" fill="rgb(102,102,102)"/>
<rect x="294.30" y="507.60" width="0.55" height="16.20" fill="rgb(102,102,102)"/>
<rect x="294.80" y="507.60" width="0.55" height="16.20" fill="rgb(102,102,102)"/>
<rect x="295.30" y="507.60" width="0.55" height="16.20" fill="rgb(102,102,102)"/>
<rect x="295.80" y="507.60" width="0.55" height="16.20" fill="rgb(102,102,102)"/>
<rect x="296.30" y="507.60" width="0.55" height="16.20" fill="rgb(102,102,102)"/>
<rect x="296.80" y="507.60" width="0.55" height="16.20" fill="rgb(102,102,102)"/>
<rect x="298.30" y="507.60" width="0.55" height="16.20" fill="rgb(1,1,1)"/>
<rect x="298.80" y="507.60" width="0.55" height="16.20" fill="rgb(177,177,177)"/>
<rect x="300.30" y="507.60" width="0.55" height="16.20" fill="rgb(242,242,242)"/>
<rect x="300.80" y="507.60" width="0.55" height="16.20" fill="rgb(106,106,106)"/>
<rect x="301.30" y="507.60" width="0.55" height="16.20" fill="rgb(106,106,106)"/>
<rect x="301.80" y="507.60" width="0.55" height="16.20" fill="rgb(106,106,106)"/>
<rect x="302.30" y="507.60" width="0.55" height="16.20" fill="rgb(106,106,106)"/>
<rect x="302.80" y="507.60" width="0.55" height="16.20" fill="rgb(106,106,106)"/>
<rect x="303.30" y="507.60" width="0.55" height="16.20" fill="rgb(69,69,69)"/>
<rect x="303.80" y="507.60" width="0.55" height="16.20" fill="rgb(152,152,152)"/>
<rect x="304.80" y="507.60" width="0.55" height="16.20" fill="rgb(171,171,171)"/>
<rect x="305.30" y="507.60" width="0.55" height="16.20" fill="rgb(171,171,171)"/>
<rect x="305.80" y="507.60" width="0.55" height="16.20" fill="rgb(156,156,156)"/>
<rect x="306.30" y="507.60" width="0.55" height="16.20" fill="rgb(156,156,156)"/>
<rect x="306.80" y="507.60" width="0.55" height="16.20" fill="rgb(156,156,156)"/>
<rect x="307.30" y="507.60" width="0.55" height="16.20" fill="rgb(122,122,122)"/>
<rect x="307.80" y="507.60" width="0.55" height="16.20" fill="rgb(122,122,122)"/>
<rect x="308.30" y="507.60" width="0.55" height="16.20" fill="rgb(173,173,173)"/>
<rect x="308.80" y="507.60" width="0.55" height="16.20" fill="rgb(173,173,173)"/>
<rect x="310.30" y="507.60" width="0.55" height="16.20" fill="rgb(101,101,101)"/>
<rect x="310.80" y="507.60" width="0.55" height="16.20" fill="rgb(101,101,101)"/>
<rect x="311.30" y="507.60" width="0.55" height="16.20" fill="rgb(101,101,101)"/>
<rect x="311.80" y="507.60" width="0.55" height="16.20" fill="rgb(101,101,101)"/>
<rect x="312.30" y="507.60" width="0.55" height="16.20" fill="rgb(101,101,101)"/>
<rect x="312.80" y="507.60" width="0.55" height="16.20" fill="rgb(76,76,76)"/>
<rect x="313.30" y="507.60" width="0.55" height="16.20" fill="rgb(76,76,76)"/>
<rect x="313.80" y="507.60" width="0.55" height="16.20" fill="rgb(76,76,76)"/>
<rect x="204.10" y="523.80" width="110.30" height="3.80" fill="url(#gg)"/>
<line x1="203.60" y1="453.30" x2="203.60" y2="528.75" stroke="#231f20" stroke-width="1.3"/>
<line x1="319.60" y1="453.30" x2="319.60" y2="528.75" stroke="#231f20" stroke-width="1.3"/>
<line x1="200.60" y1="454.30" x2="203.60" y2="454.30" stroke="#231f20" stroke-width="1"/>
<text x="197.40" y="456.95" font-size="7.4" text-anchor="end" fill="#231f20" stroke="#231f20" stroke-width="0.14" textLength="9.26" lengthAdjust="spacingAndGlyphs">0.5</text>
<line x1="200.60" y1="461.20" x2="203.60" y2="461.20" stroke="#231f20" stroke-width="1"/>
<text x="197.40" y="463.85" font-size="7.4" text-anchor="end" fill="#231f20" stroke="#231f20" stroke-width="0.14" textLength="9.26" lengthAdjust="spacingAndGlyphs">0.4</text>
<line x1="200.60" y1="468.40" x2="203.60" y2="468.40" stroke="#231f20" stroke-width="1"/>
<text x="197.40" y="471.05" font-size="7.4" text-anchor="end" fill="#231f20" stroke="#231f20" stroke-width="0.14" textLength="9.26" lengthAdjust="spacingAndGlyphs">0.3</text>
<line x1="200.60" y1="475.40" x2="203.60" y2="475.40" stroke="#231f20" stroke-width="1"/>
<text x="197.40" y="478.05" font-size="7.4" text-anchor="end" fill="#231f20" stroke="#231f20" stroke-width="0.14" textLength="9.26" lengthAdjust="spacingAndGlyphs">0.2</text>
<line x1="200.60" y1="482.60" x2="203.60" y2="482.60" stroke="#231f20" stroke-width="1"/>
<text x="197.40" y="485.25" font-size="7.4" text-anchor="end" fill="#231f20" stroke="#231f20" stroke-width="0.14" textLength="9.26" lengthAdjust="spacingAndGlyphs">0.1</text>
<line x1="200.60" y1="489.70" x2="203.60" y2="489.70" stroke="#231f20" stroke-width="1"/>
<text x="197.40" y="492.35" font-size="7.4" text-anchor="end" fill="#231f20" stroke="#231f20" stroke-width="0.14" textLength="3.70" lengthAdjust="spacingAndGlyphs">0</text>
<line x1="200.60" y1="497.00" x2="203.60" y2="497.00" stroke="#231f20" stroke-width="1"/>
<text x="197.40" y="499.65" font-size="7.4" text-anchor="end" fill="#231f20" stroke="#231f20" stroke-width="0.14" textLength="11.48" lengthAdjust="spacingAndGlyphs">-0.1</text>
<line x1="200.60" y1="504.30" x2="203.60" y2="504.30" stroke="#231f20" stroke-width="1"/>
<text x="197.40" y="506.95" font-size="7.4" text-anchor="end" fill="#231f20" stroke="#231f20" stroke-width="0.14" textLength="11.48" lengthAdjust="spacingAndGlyphs">-0.2</text>
<text x="252.70" y="434.60" font-size="9.5" fill="#231f20" stroke="#231f20" stroke-width="0.14" textLength="18.10" lengthAdjust="spacingAndGlyphs">GMP</text>
<text x="216.40" y="448.00" font-size="9.5" fill="#231f20" stroke="#231f20" stroke-width="0.14" textLength="90.70" lengthAdjust="spacingAndGlyphs">NUP98-HOXA9_3D_UP</text>
<text x="275.30" y="463.61" font-size="7.3" fill="#8e2a36" stroke="#8e2a36" stroke-width="0.14" textLength="12.00" lengthAdjust="spacingAndGlyphs">NES</text>
<text x="314.20" y="463.61" font-size="7.3" text-anchor="end" fill="#8e2a36" stroke="#8e2a36" stroke-width="0.14" textLength="12.79" lengthAdjust="spacingAndGlyphs">1.70</text>
<text x="275.30" y="474.11" font-size="7.3" fill="#231f20" stroke="#231f20" stroke-width="0.14" textLength="15.80" lengthAdjust="spacingAndGlyphs">NOM</text>
<text x="315.40" y="474.11" font-size="7.3" text-anchor="end" fill="#231f20" stroke="#231f20" stroke-width="0.14" textLength="12.79" lengthAdjust="spacingAndGlyphs">0.00</text>
<text x="275.30" y="483.81" font-size="7.3" fill="#231f20" stroke="#231f20" stroke-width="0.14" textLength="12.60" lengthAdjust="spacingAndGlyphs">FDR</text>
<text x="315.40" y="483.81" font-size="7.3" text-anchor="end" fill="#231f20" stroke="#231f20" stroke-width="0.14" textLength="12.79" lengthAdjust="spacingAndGlyphs">0.02</text>
<text transform="translate(176.00,485.75) rotate(-90)" x="0" y="3.01" font-size="8.4" text-anchor="middle" fill="#231f20" stroke="#231f20" stroke-width="0.14" textLength="84.70" lengthAdjust="spacingAndGlyphs">Enrichment score (ES)</text>
<text x="203.70" y="537.54" font-size="8.2" fill="#8e2a36" stroke="#8e2a36" stroke-width="0.14" textLength="41.50" lengthAdjust="spacingAndGlyphs">ΔTet2ΔE9-10</text>
<text x="308.80" y="537.54" font-size="8.2" fill="#231f20" stroke="#231f20" stroke-width="0.14" textLength="10.80" lengthAdjust="spacingAndGlyphs">WT</text>
<line x1="382.50" y1="455.00" x2="382.50" y2="505.20" stroke="#efefef" stroke-width="0.5"/>
<line x1="399.00" y1="455.00" x2="399.00" y2="505.20" stroke="#efefef" stroke-width="0.5"/>
<line x1="415.50" y1="455.00" x2="415.50" y2="505.20" stroke="#efefef" stroke-width="0.5"/>
<line x1="432.00" y1="455.00" x2="432.00" y2="505.20" stroke="#efefef" stroke-width="0.5"/>
<line x1="448.50" y1="455.00" x2="448.50" y2="505.20" stroke="#efefef" stroke-width="0.5"/>
<line x1="465.00" y1="455.00" x2="465.00" y2="505.20" stroke="#efefef" stroke-width="0.5"/>
<line x1="366.80" y1="459.80" x2="480.60" y2="459.80" stroke="#efefef" stroke-width="0.5"/>
<line x1="366.80" y1="468.50" x2="480.60" y2="468.50" stroke="#efefef" stroke-width="0.5"/>
<line x1="366.80" y1="476.80" x2="480.60" y2="476.80" stroke="#efefef" stroke-width="0.5"/>
<line x1="366.80" y1="485.20" x2="480.60" y2="485.20" stroke="#efefef" stroke-width="0.5"/>
<line x1="366.80" y1="493.50" x2="480.60" y2="493.50" stroke="#efefef" stroke-width="0.5"/>
<path d="M366.20,500.50 L366.20,496.50 L366.80,489.30 L368.00,481.00 L369.70,473.80 L371.50,467.90 L373.90,466.10 L376.30,463.70 L378.10,461.30 L379.30,458.30 L381.10,458.90 L383.50,457.40 L387.00,456.90 L390.60,457.40 L394.20,458.60 L400.10,461.90 L409.70,469.10 L422.00,478.00 L428.00,482.20 L433.90,486.40 L439.90,489.90 L445.80,494.10 L451.80,497.40 L457.80,500.70 L461.30,502.40 L464.90,502.40 L467.30,501.30 L469.70,499.10 L472.10,499.50 L473.80,499.80 L475.60,501.50" fill="none" stroke="#84ec48" stroke-width="1.55" stroke-linejoin="round"/>
<line x1="365.80" y1="454.00" x2="481.60" y2="454.00" stroke="#231f20" stroke-width="1.4"/>
<line x1="365.80" y1="501.80" x2="481.60" y2="501.80" stroke="#231f20" stroke-width="1.4"/>
<line x1="365.80" y1="506.20" x2="481.60" y2="506.20" stroke="#231f20" stroke-width="1.4"/>
<line x1="365.80" y1="527.60" x2="481.60" y2="527.60" stroke="#231f20" stroke-width="1.3"/>
<rect x="366.50" y="507.00" width="0.55" height="16.20" fill="rgb(166,166,166)"/>
<rect x="367.00" y="507.00" width="0.55" height="16.20" fill="rgb(166,166,166)"/>
<rect x="367.50" y="507.00" width="0.55" height="16.20" fill="rgb(166,166,166)"/>
<rect x="368.00" y="507.00" width="0.55" height="16.20" fill="rgb(198,198,198)"/>
<rect x="368.50" y="507.00" width="0.55" height="16.20" fill="rgb(198,198,198)"/>
<rect x="369.00" y="507.00" width="0.55" height="16.20" fill="rgb(85,85,85)"/>
<rect x="369.50" y="507.00" width="0.55" height="16.20" fill="rgb(85,85,85)"/>
<rect x="370.00" y="507.00" width="0.55" height="16.20" fill="rgb(118,118,118)"/>
<rect x="370.50" y="507.00" width="0.55" height="16.20" fill="rgb(118,118,118)"/>
<rect x="371.00" y="507.00" width="0.55" height="16.20" fill="rgb(49,49,49)"/>
<rect x="371.50" y="507.00" width="0.55" height="16.20" fill="rgb(34,34,34)"/>
<rect x="372.00" y="507.00" width="0.55" height="16.20" fill="rgb(104,104,104)"/>
<rect x="372.50" y="507.00" width="0.55" height="16.20" fill="rgb(104,104,104)"/>
<rect x="373.00" y="507.00" width="0.55" height="16.20" fill="rgb(72,72,72)"/>
<rect x="373.50" y="507.00" width="0.55" height="16.20" fill="rgb(181,181,181)"/>
<rect x="374.00" y="507.00" width="0.55" height="16.20" fill="rgb(164,164,164)"/>
<rect x="374.50" y="507.00" width="0.55" height="16.20" fill="rgb(82,82,82)"/>
<rect x="375.00" y="507.00" width="0.55" height="16.20" fill="rgb(70,70,70)"/>
<rect x="375.50" y="507.00" width="0.55" height="16.20" fill="rgb(70,70,70)"/>
<rect x="376.00" y="507.00" width="0.55" height="16.20" fill="rgb(70,70,70)"/>
<rect x="376.50" y="507.00" width="0.55" height="16.20" fill="rgb(70,70,70)"/>
<rect x="377.00" y="507.00" width="0.55" height="16.20" fill="rgb(11,11,11)"/>
<rect x="377.50" y="507.00" width="0.55" height="16.20" fill="rgb(11,11,11)"/>
<rect x="378.00" y="507.00" width="0.55" height="16.20" fill="rgb(11,11,11)"/>
<rect x="378.50" y="507.00" width="0.55" height="16.20" fill="rgb(11,11,11)"/>
<rect x="379.00" y="507.00" width="0.55" height="16.20" fill="rgb(33,33,33)"/>
<rect x="379.50" y="507.00" width="0.55" height="16.20" fill="rgb(180,180,180)"/>
<rect x="380.00" y="507.00" width="0.55" height="16.20" fill="rgb(85,85,85)"/>
<rect x="380.50" y="507.00" width="0.55" height="16.20" fill="rgb(85,85,85)"/>
<rect x="381.00" y="507.00" width="0.55" height="16.20" fill="rgb(85,85,85)"/>
<rect x="381.50" y="507.00" width="0.55" height="16.20" fill="rgb(137,137,137)"/>
<rect x="382.00" y="507.00" width="0.55" height="16.20" fill="rgb(90,90,90)"/>
<rect x="382.50" y="507.00" width="0.55" height="16.20" fill="rgb(90,90,90)"/>
<rect x="383.00" y="507.00" width="0.55" height="16.20" fill="rgb(90,90,90)"/>
<rect x="383.50" y="507.00" width="0.55" height="16.20" fill="rgb(10,10,10)"/>
<rect x="384.00" y="507.00" width="0.55" height="16.20" fill="rgb(87,87,87)"/>
<rect x="384.50" y="507.00" width="0.55" height="16.20" fill="rgb(87,87,87)"/>
<rect x="385.00" y="507.00" width="0.55" height="16.20" fill="rgb(102,102,102)"/>
<rect x="385.50" y="507.00" width="0.55" height="16.20" fill="rgb(102,102,102)"/>
<rect x="386.00" y="507.00" width="0.55" height="16.20" fill="rgb(51,51,51)"/>
<rect x="386.50" y="507.00" width="0.55" height="16.20" fill="rgb(51,51,51)"/>
<rect x="387.00" y="507.00" width="0.55" height="16.20" fill="rgb(51,51,51)"/>
<rect x="387.50" y="507.00" width="0.55" height="16.20" fill="rgb(51,51,51)"/>
<rect x="388.00" y="507.00" width="0.55" height="16.20" fill="rgb(51,51,51)"/>
<rect x="388.50" y="507.00" width="0.55" height="16.20" fill="rgb(126,126,126)"/>
<rect x="389.00" y="507.00" width="0.55" height="16.20" fill="rgb(126,126,126)"/>
<rect x="389.50" y="507.00" width="0.55" height="16.20" fill="rgb(126,126,126)"/>
<rect x="390.00" y="507.00" width="0.55" height="16.20" fill="rgb(126,126,126)"/>
<rect x="390.50" y="507.00" width="0.55" height="16.20" fill="rgb(126,126,126)"/>
<rect x="391.00" y="507.00" width="0.55" height="16.20" fill="rgb(126,126,126)"/>
<rect x="391.50" y="507.00" width="0.55" height="16.20" fill="rgb(126,126,126)"/>
<rect x="392.00" y="507.00" width="0.55" height="16.20" fill="rgb(0,0,0)"/>
<rect x="392.50" y="507.00" width="0.55" height="16.20" fill="rgb(0,0,0)"/>
<rect x="393.00" y="507.00" width="0.55" height="16.20" fill="rgb(134,134,134)"/>
<rect x="393.50" y="507.00" width="0.55" height="16.20" fill="rgb(134,134,134)"/>
<rect x="394.00" y="507.00" width="0.55" height="16.20" fill="rgb(48,48,48)"/>
<rect x="394.50" y="507.00" width="0.55" height="16.20" fill="rgb(248,248,248)"/>
<rect x="395.00" y="507.00" width="0.55" height="16.20" fill="rgb(248,248,248)"/>
<rect x="395.50" y="507.00" width="0.55" height="16.20" fill="rgb(248,248,248)"/>
<rect x="396.00" y="507.00" width="0.55" height="16.20" fill="rgb(149,149,149)"/>
<rect x="396.50" y="507.00" width="0.55" height="16.20" fill="rgb(78,78,78)"/>
<rect x="397.00" y="507.00" width="0.55" height="16.20" fill="rgb(78,78,78)"/>
<rect x="397.50" y="507.00" width="0.55" height="16.20" fill="rgb(186,186,186)"/>
<rect x="398.00" y="507.00" width="0.55" height="16.20" fill="rgb(186,186,186)"/>
<rect x="398.50" y="507.00" width="0.55" height="16.20" fill="rgb(186,186,186)"/>
<rect x="399.00" y="507.00" width="0.55" height="16.20" fill="rgb(186,186,186)"/>
<rect x="399.50" y="507.00" width="0.55" height="16.20" fill="rgb(186,186,186)"/>
<rect x="406.50" y="507.00" width="0.55" height="16.20" fill="rgb(74,74,74)"/>
<rect x="407.00" y="507.00" width="0.55" height="16.20" fill="rgb(74,74,74)"/>
<rect x="407.50" y="507.00" width="0.55" height="16.20" fill="rgb(74,74,74)"/>
<rect x="408.00" y="507.00" width="0.55" height="16.20" fill="rgb(74,74,74)"/>
<rect x="408.50" y="507.00" width="0.55" height="16.20" fill="rgb(74,74,74)"/>
<rect x="409.00" y="507.00" width="0.55" height="16.20" fill="rgb(100,100,100)"/>
<rect x="409.50" y="507.00" width="0.55" height="16.20" fill="rgb(146,146,146)"/>
<rect x="410.00" y="507.00" width="0.55" height="16.20" fill="rgb(146,146,146)"/>
<rect x="411.00" y="507.00" width="0.55" height="16.20" fill="rgb(116,116,116)"/>
<rect x="411.50" y="507.00" width="0.55" height="16.20" fill="rgb(116,116,116)"/>
<rect x="416.00" y="507.00" width="0.55" height="16.20" fill="rgb(0,0,0)"/>
<rect x="416.50" y="507.00" width="0.55" height="16.20" fill="rgb(0,0,0)"/>
<rect x="417.00" y="507.00" width="0.55" height="16.20" fill="rgb(177,177,177)"/>
<rect x="417.50" y="507.00" width="0.55" height="16.20" fill="rgb(227,227,227)"/>
<rect x="418.00" y="507.00" width="0.55" height="16.20" fill="rgb(227,227,227)"/>
<rect x="419.50" y="507.00" width="0.55" height="16.20" fill="rgb(142,142,142)"/>
<rect x="422.00" y="507.00" width="0.55" height="16.20" fill="rgb(194,194,194)"/>
<rect x="422.50" y="507.00" width="0.55" height="16.20" fill="rgb(194,194,194)"/>
<rect x="423.00" y="507.00" width="0.55" height="16.20" fill="rgb(211,211,211)"/>
<rect x="423.50" y="507.00" width="0.55" height="16.20" fill="rgb(211,211,211)"/>
<rect x="424.00" y="507.00" width="0.55" height="16.20" fill="rgb(160,160,160)"/>
<rect x="424.50" y="507.00" width="0.55" height="16.20" fill="rgb(160,160,160)"/>
<rect x="428.00" y="507.00" width="0.55" height="16.20" fill="rgb(70,70,70)"/>
<rect x="428.50" y="507.00" width="0.55" height="16.20" fill="rgb(138,138,138)"/>
<rect x="429.00" y="507.00" width="0.55" height="16.20" fill="rgb(138,138,138)"/>
<rect x="429.50" y="507.00" width="0.55" height="16.20" fill="rgb(61,61,61)"/>
<rect x="430.00" y="507.00" width="0.55" height="16.20" fill="rgb(61,61,61)"/>
<rect x="430.50" y="507.00" width="0.55" height="16.20" fill="rgb(61,61,61)"/>
<rect x="431.00" y="507.00" width="0.55" height="16.20" fill="rgb(203,203,203)"/>
<rect x="431.50" y="507.00" width="0.55" height="16.20" fill="rgb(191,191,191)"/>
<rect x="432.00" y="507.00" width="0.55" height="16.20" fill="rgb(191,191,191)"/>
<rect x="432.50" y="507.00" width="0.55" height="16.20" fill="rgb(117,117,117)"/>
<rect x="433.00" y="507.00" width="0.55" height="16.20" fill="rgb(117,117,117)"/>
<rect x="434.00" y="507.00" width="0.55" height="16.20" fill="rgb(81,81,81)"/>
<rect x="434.50" y="507.00" width="0.55" height="16.20" fill="rgb(81,81,81)"/>
<rect x="435.00" y="507.00" width="0.55" height="16.20" fill="rgb(232,232,232)"/>
<rect x="435.50" y="507.00" width="0.55" height="16.20" fill="rgb(232,232,232)"/>
<rect x="438.00" y="507.00" width="0.55" height="16.20" fill="rgb(146,146,146)"/>
<rect x="438.50" y="507.00" width="0.55" height="16.20" fill="rgb(146,146,146)"/>
<rect x="439.00" y="507.00" width="0.55" height="16.20" fill="rgb(146,146,146)"/>
<rect x="439.50" y="507.00" width="0.55" height="16.20" fill="rgb(146,146,146)"/>
<rect x="440.00" y="507.00" width="0.55" height="16.20" fill="rgb(218,218,218)"/>
<rect x="440.50" y="507.00" width="0.55" height="16.20" fill="rgb(64,64,64)"/>
<rect x="441.00" y="507.00" width="0.55" height="16.20" fill="rgb(161,161,161)"/>
<rect x="441.50" y="507.00" width="0.55" height="16.20" fill="rgb(161,161,161)"/>
<rect x="445.00" y="507.00" width="0.55" height="16.20" fill="rgb(148,148,148)"/>
<rect x="445.50" y="507.00" width="0.55" height="16.20" fill="rgb(60,60,60)"/>
<rect x="447.00" y="507.00" width="0.55" height="16.20" fill="rgb(104,104,104)"/>
<rect x="447.50" y="507.00" width="0.55" height="16.20" fill="rgb(104,104,104)"/>
<rect x="448.50" y="507.00" width="0.55" height="16.20" fill="rgb(141,141,141)"/>
<rect x="452.50" y="507.00" width="0.55" height="16.20" fill="rgb(173,173,173)"/>
<rect x="453.00" y="507.00" width="0.55" height="16.20" fill="rgb(173,173,173)"/>
<rect x="453.50" y="507.00" width="0.55" height="16.20" fill="rgb(161,161,161)"/>
<rect x="454.00" y="507.00" width="0.55" height="16.20" fill="rgb(91,91,91)"/>
<rect x="458.00" y="507.00" width="0.55" height="16.20" fill="rgb(41,41,41)"/>
<rect x="458.50" y="507.00" width="0.55" height="16.20" fill="rgb(41,41,41)"/>
<rect x="459.00" y="507.00" width="0.55" height="16.20" fill="rgb(41,41,41)"/>
<rect x="459.50" y="507.00" width="0.55" height="16.20" fill="rgb(209,209,209)"/>
<rect x="460.00" y="507.00" width="0.55" height="16.20" fill="rgb(209,209,209)"/>
<rect x="460.50" y="507.00" width="0.55" height="16.20" fill="rgb(69,69,69)"/>
<rect x="461.50" y="507.00" width="0.55" height="16.20" fill="rgb(178,178,178)"/>
<rect x="462.00" y="507.00" width="0.55" height="16.20" fill="rgb(151,151,151)"/>
<rect x="462.50" y="507.00" width="0.55" height="16.20" fill="rgb(151,151,151)"/>
<rect x="466.50" y="507.00" width="0.55" height="16.20" fill="rgb(105,105,105)"/>
<rect x="467.00" y="507.00" width="0.55" height="16.20" fill="rgb(105,105,105)"/>
<rect x="467.50" y="507.00" width="0.55" height="16.20" fill="rgb(125,125,125)"/>
<rect x="468.00" y="507.00" width="0.55" height="16.20" fill="rgb(125,125,125)"/>
<rect x="468.50" y="507.00" width="0.55" height="16.20" fill="rgb(10,10,10)"/>
<rect x="469.00" y="507.00" width="0.55" height="16.20" fill="rgb(10,10,10)"/>
<rect x="471.50" y="507.00" width="0.55" height="16.20" fill="rgb(154,154,154)"/>
<rect x="472.00" y="507.00" width="0.55" height="16.20" fill="rgb(22,22,22)"/>
<rect x="472.50" y="507.00" width="0.55" height="16.20" fill="rgb(169,169,169)"/>
<rect x="473.00" y="507.00" width="0.55" height="16.20" fill="rgb(96,96,96)"/>
<rect x="473.50" y="507.00" width="0.55" height="16.20" fill="rgb(96,96,96)"/>
<rect x="474.00" y="507.00" width="0.55" height="16.20" fill="rgb(96,96,96)"/>
<rect x="474.50" y="507.00" width="0.55" height="16.20" fill="rgb(96,96,96)"/>
<rect x="475.00" y="507.00" width="0.55" height="16.20" fill="rgb(96,96,96)"/>
<rect x="475.50" y="507.00" width="0.55" height="16.20" fill="rgb(96,96,96)"/>
<rect x="366.30" y="523.20" width="109.90" height="3.80" fill="url(#gg)"/>
<line x1="365.80" y1="453.30" x2="365.80" y2="528.25" stroke="#231f20" stroke-width="1.3"/>
<line x1="481.60" y1="453.30" x2="481.60" y2="528.25" stroke="#231f20" stroke-width="1.3"/>
<line x1="362.80" y1="459.80" x2="365.80" y2="459.80" stroke="#231f20" stroke-width="1"/>
<text x="359.60" y="462.45" font-size="7.4" text-anchor="end" fill="#231f20" stroke="#231f20" stroke-width="0.14" textLength="9.26" lengthAdjust="spacingAndGlyphs">0.5</text>
<line x1="362.80" y1="468.50" x2="365.80" y2="468.50" stroke="#231f20" stroke-width="1"/>
<text x="359.60" y="471.15" font-size="7.4" text-anchor="end" fill="#231f20" stroke="#231f20" stroke-width="0.14" textLength="9.26" lengthAdjust="spacingAndGlyphs">0.4</text>
<line x1="362.80" y1="476.80" x2="365.80" y2="476.80" stroke="#231f20" stroke-width="1"/>
<text x="359.60" y="479.45" font-size="7.4" text-anchor="end" fill="#231f20" stroke="#231f20" stroke-width="0.14" textLength="9.26" lengthAdjust="spacingAndGlyphs">0.3</text>
<line x1="362.80" y1="485.20" x2="365.80" y2="485.20" stroke="#231f20" stroke-width="1"/>
<text x="359.60" y="487.85" font-size="7.4" text-anchor="end" fill="#231f20" stroke="#231f20" stroke-width="0.14" textLength="9.26" lengthAdjust="spacingAndGlyphs">0.2</text>
<line x1="362.80" y1="493.50" x2="365.80" y2="493.50" stroke="#231f20" stroke-width="1"/>
<text x="359.60" y="496.15" font-size="7.4" text-anchor="end" fill="#231f20" stroke="#231f20" stroke-width="0.14" textLength="9.26" lengthAdjust="spacingAndGlyphs">0.1</text>
<line x1="362.80" y1="501.80" x2="365.80" y2="501.80" stroke="#231f20" stroke-width="1"/>
<text x="359.60" y="504.45" font-size="7.4" text-anchor="end" fill="#231f20" stroke="#231f20" stroke-width="0.14" textLength="3.70" lengthAdjust="spacingAndGlyphs">0</text>
<text x="398.00" y="434.60" font-size="9.5" fill="#231f20" stroke="#231f20" stroke-width="0.14" textLength="51.40" lengthAdjust="spacingAndGlyphs">Erythroblasts</text>
<text x="394.00" y="448.00" font-size="9.5" fill="#231f20" stroke="#231f20" stroke-width="0.14" textLength="59.20" lengthAdjust="spacingAndGlyphs">MDM4_Targets</text>
<text x="437.30" y="463.61" font-size="7.3" fill="#8e2a36" stroke="#8e2a36" stroke-width="0.14" textLength="12.00" lengthAdjust="spacingAndGlyphs">NES</text>
<text x="476.20" y="463.61" font-size="7.3" text-anchor="end" fill="#8e2a36" stroke="#8e2a36" stroke-width="0.14" textLength="12.79" lengthAdjust="spacingAndGlyphs">2.16</text>
<text x="437.30" y="474.11" font-size="7.3" fill="#231f20" stroke="#231f20" stroke-width="0.14" textLength="15.80" lengthAdjust="spacingAndGlyphs">NOM</text>
<text x="477.40" y="474.11" font-size="7.3" text-anchor="end" fill="#231f20" stroke="#231f20" stroke-width="0.14" textLength="12.79" lengthAdjust="spacingAndGlyphs">0.00</text>
<text x="437.30" y="483.81" font-size="7.3" fill="#231f20" stroke="#231f20" stroke-width="0.14" textLength="12.60" lengthAdjust="spacingAndGlyphs">FDR</text>
<text x="477.40" y="483.81" font-size="7.3" text-anchor="end" fill="#231f20" stroke="#231f20" stroke-width="0.14" textLength="12.79" lengthAdjust="spacingAndGlyphs">0.00</text>
<text transform="translate(339.00,485.75) rotate(-90)" x="0" y="3.01" font-size="8.4" text-anchor="middle" fill="#231f20" stroke="#231f20" stroke-width="0.14" textLength="84.70" lengthAdjust="spacingAndGlyphs">Enrichment score (ES)</text>
<text x="366.00" y="537.94" font-size="8.2" fill="#8e2a36" stroke="#8e2a36" stroke-width="0.14" textLength="41.50" lengthAdjust="spacingAndGlyphs">ΔTet2ΔE9-10</text>
<text x="470.50" y="537.94" font-size="8.2" fill="#231f20" stroke="#231f20" stroke-width="0.14" textLength="10.90" lengthAdjust="spacingAndGlyphs">WT</text>
<line x1="28.00" y1="550.00" x2="48.75" y2="550.00" stroke="#9ccc65" stroke-width="1.3"/>
<text x="52.50" y="552.72" font-size="7.6" fill="#231f20" stroke="#231f20" stroke-width="0.14" textLength="61.25" lengthAdjust="spacingAndGlyphs">Enrichment profile</text>
<line x1="125.50" y1="550.00" x2="146.25" y2="550.00" stroke="#3a3a3a" stroke-width="1.3"/>
<text x="149.50" y="552.72" font-size="7.6" fill="#231f20" stroke="#231f20" stroke-width="0.14" textLength="13.00" lengthAdjust="spacingAndGlyphs">Hits</text>
<line x1="193.75" y1="550.00" x2="214.50" y2="550.00" stroke="#9ccc65" stroke-width="1.3"/>
<text x="217.50" y="552.72" font-size="7.6" fill="#231f20" stroke="#231f20" stroke-width="0.14" textLength="61.75" lengthAdjust="spacingAndGlyphs">Enrichment profile</text>
<line x1="291.25" y1="550.00" x2="311.25" y2="550.00" stroke="#3a3a3a" stroke-width="1.3"/>
<text x="315.50" y="552.72" font-size="7.6" fill="#231f20" stroke="#231f20" stroke-width="0.14" textLength="12.50" lengthAdjust="spacingAndGlyphs">Hits</text>
<line x1="356.25" y1="550.00" x2="376.25" y2="550.00" stroke="#9ccc65" stroke-width="1.3"/>
<text x="380.00" y="552.72" font-size="7.6" fill="#231f20" stroke="#231f20" stroke-width="0.14" textLength="61.25" lengthAdjust="spacingAndGlyphs">Enrichment profile</text>
<line x1="453.75" y1="550.00" x2="473.75" y2="550.00" stroke="#3a3a3a" stroke-width="1.3"/>
<text x="477.50" y="552.72" font-size="7.6" fill="#231f20" stroke="#231f20" stroke-width="0.14" textLength="13.00" lengthAdjust="spacingAndGlyphs">Hits</text>
<line x1="41.50" y1="597.20" x2="41.50" y2="669.50" stroke="#231f20" stroke-width="1.1"/>
<line x1="41.00" y1="669.00" x2="87.30" y2="669.00" stroke="#231f20" stroke-width="1.1"/>
<line x1="38.90" y1="669.00" x2="41.50" y2="669.00" stroke="#231f20" stroke-width="1"/>
<text x="37.30" y="671.65" font-size="7.4" text-anchor="end" fill="#231f20" stroke="#231f20" stroke-width="0.14" textLength="3.79" lengthAdjust="spacingAndGlyphs">0</text>
<line x1="38.90" y1="646.00" x2="41.50" y2="646.00" stroke="#231f20" stroke-width="1"/>
<text x="37.30" y="648.65" font-size="7.4" text-anchor="end" fill="#231f20" stroke="#231f20" stroke-width="0.14" textLength="3.79" lengthAdjust="spacingAndGlyphs">1</text>
<line x1="38.90" y1="623.00" x2="41.50" y2="623.00" stroke="#231f20" stroke-width="1"/>
<text x="37.30" y="625.65" font-size="7.4" text-anchor="end" fill="#231f20" stroke="#231f20" stroke-width="0.14" textLength="3.79" lengthAdjust="spacingAndGlyphs">2</text>
<line x1="38.90" y1="600.00" x2="41.50" y2="600.00" stroke="#231f20" stroke-width="1"/>
<text x="37.30" y="602.65" font-size="7.4" text-anchor="end" fill="#231f20" stroke="#231f20" stroke-width="0.14" textLength="3.79" lengthAdjust="spacingAndGlyphs">3</text>
<rect x="44.25" y="646.00" width="7.50" height="23.00" fill="#c2103d"/>
<line x1="48.00" y1="646.00" x2="48.00" y2="644.80" stroke="#000" stroke-width="0.9"/>
<line x1="46.00" y1="644.80" x2="50.00" y2="644.80" stroke="#000" stroke-width="1.0"/>
<line x1="48.00" y1="669.00" x2="48.00" y2="671.40" stroke="#231f20" stroke-width="0.9"/>
<text transform="translate(51.00,678.70) rotate(-45)" x="0" y="0" font-size="7.8" text-anchor="end" fill="#231f20" stroke="#231f20" stroke-width="0.14" textLength="11.16" lengthAdjust="spacingAndGlyphs">WT</text>
<rect x="55.25" y="613.80" width="7.50" height="55.20" fill="#2e4b89"/>
<line x1="59.00" y1="613.80" x2="59.00" y2="611.60" stroke="#000" stroke-width="0.9"/>
<line x1="57.00" y1="611.60" x2="61.00" y2="611.60" stroke="#000" stroke-width="1.0"/>
<line x1="59.00" y1="669.00" x2="59.00" y2="671.40" stroke="#231f20" stroke-width="0.9"/>
<circle cx="59.00" cy="611.20" r="1.0" fill="#222"/>
<circle cx="59.00" cy="607.80" r="1.0" fill="#222"/>
<circle cx="59.00" cy="604.40" r="1.0" fill="#222"/>
<circle cx="59.00" cy="600.90" r="1.0" fill="#222"/>
<text transform="translate(62.00,678.70) rotate(-45)" x="0" y="0" font-size="7.8" text-anchor="end" fill="#231f20" stroke="#231f20" stroke-width="0.14" textLength="23.94" lengthAdjust="spacingAndGlyphs">ΔE9-10</text>
<rect x="66.75" y="630.90" width="7.50" height="38.10" fill="#6cb344"/>
<line x1="70.50" y1="630.90" x2="70.50" y2="627.40" stroke="#000" stroke-width="0.9"/>
<line x1="68.50" y1="627.40" x2="72.50" y2="627.40" stroke="#000" stroke-width="1.0"/>
<line x1="70.50" y1="669.00" x2="70.50" y2="671.40" stroke="#231f20" stroke-width="0.9"/>
<circle cx="70.50" cy="623.40" r="1.0" fill="#222"/>
<circle cx="70.50" cy="620.00" r="1.0" fill="#222"/>
<text transform="translate(73.50,678.70) rotate(-45)" x="0" y="0" font-size="7.8" text-anchor="end" fill="#231f20" stroke="#231f20" stroke-width="0.14" textLength="18.36" lengthAdjust="spacingAndGlyphs">ΔTet2</text>
<rect x="78.35" y="610.20" width="7.50" height="58.80" fill="#5b2570"/>
<line x1="82.10" y1="610.20" x2="82.10" y2="608.20" stroke="#000" stroke-width="0.9"/>
<line x1="80.10" y1="608.20" x2="84.10" y2="608.20" stroke="#000" stroke-width="1.0"/>
<line x1="82.10" y1="669.00" x2="82.10" y2="671.40" stroke="#231f20" stroke-width="0.9"/>
<circle cx="82.10" cy="607.80" r="1.0" fill="#222"/>
<circle cx="82.10" cy="604.40" r="1.0" fill="#222"/>
<circle cx="82.10" cy="601.00" r="1.0" fill="#222"/>
<circle cx="82.10" cy="597.50" r="1.0" fill="#222"/>
<text transform="translate(85.10,678.70) rotate(-45)" x="0" y="0" font-size="7.8" text-anchor="end" fill="#231f20" stroke="#231f20" stroke-width="0.14" textLength="15.55" lengthAdjust="spacingAndGlyphs">DKO</text>
<text x="51.90" y="588.33" font-size="9.3" fill="#231f20" stroke="#231f20" stroke-width="0.14" textLength="25.60" lengthAdjust="spacingAndGlyphs">Cebpa</text>
<line x1="108.20" y1="597.20" x2="108.20" y2="669.50" stroke="#231f20" stroke-width="1.1"/>
<line x1="107.70" y1="669.00" x2="153.70" y2="669.00" stroke="#231f20" stroke-width="1.1"/>
<line x1="105.60" y1="669.00" x2="108.20" y2="669.00" stroke="#231f20" stroke-width="1"/>
<text x="104.00" y="671.65" font-size="7.4" text-anchor="end" fill="#231f20" stroke="#231f20" stroke-width="0.14" textLength="3.79" lengthAdjust="spacingAndGlyphs">0</text>
<line x1="105.60" y1="655.20" x2="108.20" y2="655.20" stroke="#231f20" stroke-width="1"/>
<text x="104.00" y="657.85" font-size="7.4" text-anchor="end" fill="#231f20" stroke="#231f20" stroke-width="0.14" textLength="3.79" lengthAdjust="spacingAndGlyphs">2</text>
<line x1="105.60" y1="641.40" x2="108.20" y2="641.40" stroke="#231f20" stroke-width="1"/>
<text x="104.00" y="644.05" font-size="7.4" text-anchor="end" fill="#231f20" stroke="#231f20" stroke-width="0.14" textLength="3.79" lengthAdjust="spacingAndGlyphs">4</text>
<line x1="105.60" y1="627.60" x2="108.20" y2="627.60" stroke="#231f20" stroke-width="1"/>
<text x="104.00" y="630.25" font-size="7.4" text-anchor="end" fill="#231f20" stroke="#231f20" stroke-width="0.14" textLength="3.79" lengthAdjust="spacingAndGlyphs">6</text>
<line x1="105.60" y1="613.80" x2="108.20" y2="613.80" stroke="#231f20" stroke-width="1"/>
<text x="104.00" y="616.45" font-size="7.4" text-anchor="end" fill="#231f20" stroke="#231f20" stroke-width="0.14" textLength="3.79" lengthAdjust="spacingAndGlyphs">8</text>
<line x1="105.60" y1="600.00" x2="108.20" y2="600.00" stroke="#231f20" stroke-width="1"/>
<text x="104.00" y="602.65" font-size="7.4" text-anchor="end" fill="#231f20" stroke="#231f20" stroke-width="0.14" textLength="7.57" lengthAdjust="spacingAndGlyphs">10</text>
<rect x="110.65" y="662.00" width="7.50" height="7.00" fill="#c2103d"/>
<line x1="114.40" y1="662.00" x2="114.40" y2="661.00" stroke="#000" stroke-width="0.9"/>
<line x1="112.40" y1="661.00" x2="116.40" y2="661.00" stroke="#000" stroke-width="1.0"/>
<line x1="114.40" y1="669.00" x2="114.40" y2="671.40" stroke="#231f20" stroke-width="0.9"/>
<text transform="translate(117.40,678.70) rotate(-45)" x="0" y="0" font-size="7.8" text-anchor="end" fill="#231f20" stroke="#231f20" stroke-width="0.14" textLength="11.16" lengthAdjust="spacingAndGlyphs">WT</text>
<rect x="122.05" y="618.10" width="7.50" height="50.90" fill="#2e4b89"/>
<line x1="125.80" y1="618.10" x2="125.80" y2="615.10" stroke="#000" stroke-width="0.9"/>
<line x1="123.80" y1="615.10" x2="127.80" y2="615.10" stroke="#000" stroke-width="1.0"/>
<line x1="125.80" y1="669.00" x2="125.80" y2="671.40" stroke="#231f20" stroke-width="0.9"/>
<circle cx="125.80" cy="614.70" r="1.0" fill="#222"/>
<circle cx="125.80" cy="611.30" r="1.0" fill="#222"/>
<circle cx="125.80" cy="607.90" r="1.0" fill="#222"/>
<circle cx="125.80" cy="604.40" r="1.0" fill="#222"/>
<text transform="translate(128.80,678.70) rotate(-45)" x="0" y="0" font-size="7.8" text-anchor="end" fill="#231f20" stroke="#231f20" stroke-width="0.14" textLength="23.94" lengthAdjust="spacingAndGlyphs">ΔE9-10</text>
<rect x="133.25" y="662.00" width="7.50" height="7.00" fill="#6cb344"/>
<line x1="137.00" y1="662.00" x2="137.00" y2="661.20" stroke="#000" stroke-width="0.9"/>
<line x1="135.00" y1="661.20" x2="139.00" y2="661.20" stroke="#000" stroke-width="1.0"/>
<line x1="137.00" y1="669.00" x2="137.00" y2="671.40" stroke="#231f20" stroke-width="0.9"/>
<text transform="translate(140.00,678.70) rotate(-45)" x="0" y="0" font-size="7.8" text-anchor="end" fill="#231f20" stroke="#231f20" stroke-width="0.14" textLength="18.36" lengthAdjust="spacingAndGlyphs">ΔTet2</text>
<rect x="144.75" y="645.80" width="7.50" height="23.20" fill="#5b2570"/>
<line x1="148.50" y1="645.80" x2="148.50" y2="644.30" stroke="#000" stroke-width="0.9"/>
<line x1="146.50" y1="644.30" x2="150.50" y2="644.30" stroke="#000" stroke-width="1.0"/>
<line x1="148.50" y1="669.00" x2="148.50" y2="671.40" stroke="#231f20" stroke-width="0.9"/>
<circle cx="148.50" cy="643.90" r="1.0" fill="#222"/>
<circle cx="148.50" cy="640.50" r="1.0" fill="#222"/>
<circle cx="148.50" cy="637.10" r="1.0" fill="#222"/>
<circle cx="148.50" cy="633.60" r="1.0" fill="#222"/>
<text transform="translate(151.50,678.70) rotate(-45)" x="0" y="0" font-size="7.8" text-anchor="end" fill="#231f20" stroke="#231f20" stroke-width="0.14" textLength="15.55" lengthAdjust="spacingAndGlyphs">DKO</text>
<text x="118.40" y="588.33" font-size="9.3" fill="#231f20" stroke="#231f20" stroke-width="0.14" textLength="25.60" lengthAdjust="spacingAndGlyphs">Cebpe</text>
<line x1="50.20" y1="576.70" x2="145.70" y2="576.70" stroke="#231f20" stroke-width="1.1"/>
<text x="91.20" y="571.63" font-size="9.3" fill="#231f20" stroke="#231f20" stroke-width="0.14" textLength="13.90" lengthAdjust="spacingAndGlyphs">LSK</text>
<text transform="translate(23.40,633.00) rotate(-90)" x="0" y="3.15" font-size="8.8" text-anchor="middle" fill="#231f20" stroke="#231f20" stroke-width="0.14" textLength="77.00" lengthAdjust="spacingAndGlyphs">Relative expression</text>
<line x1="205.50" y1="597.20" x2="205.50" y2="669.50" stroke="#231f20" stroke-width="1.1"/>
<line x1="205.00" y1="669.00" x2="250.20" y2="669.00" stroke="#231f20" stroke-width="1.1"/>
<line x1="202.90" y1="669.00" x2="205.50" y2="669.00" stroke="#231f20" stroke-width="1"/>
<text x="201.30" y="671.65" font-size="7.4" text-anchor="end" fill="#231f20" stroke="#231f20" stroke-width="0.14" textLength="3.79" lengthAdjust="spacingAndGlyphs">0</text>
<line x1="202.90" y1="651.75" x2="205.50" y2="651.75" stroke="#231f20" stroke-width="1"/>
<text x="201.30" y="654.40" font-size="7.4" text-anchor="end" fill="#231f20" stroke="#231f20" stroke-width="0.14" textLength="3.79" lengthAdjust="spacingAndGlyphs">2</text>
<line x1="202.90" y1="634.50" x2="205.50" y2="634.50" stroke="#231f20" stroke-width="1"/>
<text x="201.30" y="637.15" font-size="7.4" text-anchor="end" fill="#231f20" stroke="#231f20" stroke-width="0.14" textLength="3.79" lengthAdjust="spacingAndGlyphs">4</text>
<line x1="202.90" y1="617.25" x2="205.50" y2="617.25" stroke="#231f20" stroke-width="1"/>
<text x="201.30" y="619.90" font-size="7.4" text-anchor="end" fill="#231f20" stroke="#231f20" stroke-width="0.14" textLength="3.79" lengthAdjust="spacingAndGlyphs">6</text>
<line x1="202.90" y1="600.00" x2="205.50" y2="600.00" stroke="#231f20" stroke-width="1"/>
<text x="201.30" y="602.65" font-size="7.4" text-anchor="end" fill="#231f20" stroke="#231f20" stroke-width="0.14" textLength="3.79" lengthAdjust="spacingAndGlyphs">8</text>
<rect x="207.25" y="660.30" width="7.50" height="8.70" fill="#c2103d"/>
<line x1="211.00" y1="660.30" x2="211.00" y2="659.30" stroke="#000" stroke-width="0.9"/>
<line x1="209.00" y1="659.30" x2="213.00" y2="659.30" stroke="#000" stroke-width="1.0"/>
<line x1="211.00" y1="669.00" x2="211.00" y2="671.40" stroke="#231f20" stroke-width="0.9"/>
<text transform="translate(214.00,678.70) rotate(-45)" x="0" y="0" font-size="7.8" text-anchor="end" fill="#231f20" stroke="#231f20" stroke-width="0.14" textLength="11.16" lengthAdjust="spacingAndGlyphs">WT</text>
<rect x="218.45" y="613.20" width="7.50" height="55.80" fill="#2e4b89"/>
<line x1="222.20" y1="613.20" x2="222.20" y2="610.60" stroke="#000" stroke-width="0.9"/>
<line x1="220.20" y1="610.60" x2="224.20" y2="610.60" stroke="#000" stroke-width="1.0"/>
<line x1="222.20" y1="669.00" x2="222.20" y2="671.40" stroke="#231f20" stroke-width="0.9"/>
<circle cx="222.20" cy="610.20" r="1.0" fill="#222"/>
<circle cx="222.20" cy="606.80" r="1.0" fill="#222"/>
<circle cx="222.20" cy="603.40" r="1.0" fill="#222"/>
<circle cx="222.20" cy="599.90" r="1.0" fill="#222"/>
<text transform="translate(225.20,678.70) rotate(-45)" x="0" y="0" font-size="7.8" text-anchor="end" fill="#231f20" stroke="#231f20" stroke-width="0.14" textLength="23.94" lengthAdjust="spacingAndGlyphs">ΔE9-10</text>
<rect x="229.85" y="659.00" width="7.50" height="10.00" fill="#6cb344"/>
<line x1="233.60" y1="659.00" x2="233.60" y2="658.00" stroke="#000" stroke-width="0.9"/>
<line x1="231.60" y1="658.00" x2="235.60" y2="658.00" stroke="#000" stroke-width="1.0"/>
<line x1="233.60" y1="669.00" x2="233.60" y2="671.40" stroke="#231f20" stroke-width="0.9"/>
<text transform="translate(236.60,678.70) rotate(-45)" x="0" y="0" font-size="7.8" text-anchor="end" fill="#231f20" stroke="#231f20" stroke-width="0.14" textLength="18.36" lengthAdjust="spacingAndGlyphs">ΔTet2</text>
<rect x="241.25" y="636.30" width="7.50" height="32.70" fill="#5b2570"/>
<line x1="245.00" y1="636.30" x2="245.00" y2="634.40" stroke="#000" stroke-width="0.9"/>
<line x1="243.00" y1="634.40" x2="247.00" y2="634.40" stroke="#000" stroke-width="1.0"/>
<line x1="245.00" y1="669.00" x2="245.00" y2="671.40" stroke="#231f20" stroke-width="0.9"/>
<circle cx="245.00" cy="634.00" r="1.0" fill="#222"/>
<circle cx="245.00" cy="630.60" r="1.0" fill="#222"/>
<circle cx="245.00" cy="627.20" r="1.0" fill="#222"/>
<circle cx="245.00" cy="623.70" r="1.0" fill="#222"/>
<text transform="translate(248.00,678.70) rotate(-45)" x="0" y="0" font-size="7.8" text-anchor="end" fill="#231f20" stroke="#231f20" stroke-width="0.14" textLength="15.55" lengthAdjust="spacingAndGlyphs">DKO</text>
<text x="215.80" y="588.33" font-size="9.3" fill="#231f20" stroke="#231f20" stroke-width="0.14" textLength="24.80" lengthAdjust="spacingAndGlyphs">Hoxa7</text>
<line x1="266.80" y1="597.20" x2="266.80" y2="669.50" stroke="#231f20" stroke-width="1.1"/>
<line x1="266.30" y1="669.00" x2="312.60" y2="669.00" stroke="#231f20" stroke-width="1.1"/>
<line x1="264.20" y1="669.00" x2="266.80" y2="669.00" stroke="#231f20" stroke-width="1"/>
<text x="262.60" y="671.65" font-size="7.4" text-anchor="end" fill="#231f20" stroke="#231f20" stroke-width="0.14" textLength="3.79" lengthAdjust="spacingAndGlyphs">0</text>
<line x1="264.20" y1="651.75" x2="266.80" y2="651.75" stroke="#231f20" stroke-width="1"/>
<text x="262.60" y="654.40" font-size="7.4" text-anchor="end" fill="#231f20" stroke="#231f20" stroke-width="0.14" textLength="3.79" lengthAdjust="spacingAndGlyphs">1</text>
<line x1="264.20" y1="634.50" x2="266.80" y2="634.50" stroke="#231f20" stroke-width="1"/>
<text x="262.60" y="637.15" font-size="7.4" text-anchor="end" fill="#231f20" stroke="#231f20" stroke-width="0.14" textLength="3.79" lengthAdjust="spacingAndGlyphs">2</text>
<line x1="264.20" y1="617.25" x2="266.80" y2="617.25" stroke="#231f20" stroke-width="1"/>
<text x="262.60" y="619.90" font-size="7.4" text-anchor="end" fill="#231f20" stroke="#231f20" stroke-width="0.14" textLength="3.79" lengthAdjust="spacingAndGlyphs">3</text>
<line x1="264.20" y1="600.00" x2="266.80" y2="600.00" stroke="#231f20" stroke-width="1"/>
<text x="262.60" y="602.65" font-size="7.4" text-anchor="end" fill="#231f20" stroke="#231f20" stroke-width="0.14" textLength="3.79" lengthAdjust="spacingAndGlyphs">4</text>
<rect x="269.15" y="651.60" width="7.50" height="17.40" fill="#c2103d"/>
<line x1="272.90" y1="651.60" x2="272.90" y2="651.20" stroke="#000" stroke-width="0.9"/>
<line x1="270.90" y1="651.20" x2="274.90" y2="651.20" stroke="#000" stroke-width="1.0"/>
<line x1="272.90" y1="669.00" x2="272.90" y2="671.40" stroke="#231f20" stroke-width="0.9"/>
<text transform="translate(275.90,678.70) rotate(-45)" x="0" y="0" font-size="7.8" text-anchor="end" fill="#231f20" stroke="#231f20" stroke-width="0.14" textLength="11.16" lengthAdjust="spacingAndGlyphs">WT</text>
<rect x="280.75" y="629.60" width="7.50" height="39.40" fill="#2e4b89"/>
<line x1="284.50" y1="629.60" x2="284.50" y2="628.10" stroke="#000" stroke-width="0.9"/>
<line x1="282.50" y1="628.10" x2="286.50" y2="628.10" stroke="#000" stroke-width="1.0"/>
<line x1="284.50" y1="669.00" x2="284.50" y2="671.40" stroke="#231f20" stroke-width="0.9"/>
<circle cx="284.50" cy="627.70" r="1.0" fill="#222"/>
<circle cx="284.50" cy="624.30" r="1.0" fill="#222"/>
<circle cx="284.50" cy="620.90" r="1.0" fill="#222"/>
<circle cx="284.50" cy="617.40" r="1.0" fill="#222"/>
<text transform="translate(287.50,678.70) rotate(-45)" x="0" y="0" font-size="7.8" text-anchor="end" fill="#231f20" stroke="#231f20" stroke-width="0.14" textLength="23.94" lengthAdjust="spacingAndGlyphs">ΔE9-10</text>
<rect x="291.95" y="661.00" width="7.50" height="8.00" fill="#6cb344"/>
<line x1="295.70" y1="661.00" x2="295.70" y2="660.30" stroke="#000" stroke-width="0.9"/>
<line x1="293.70" y1="660.30" x2="297.70" y2="660.30" stroke="#000" stroke-width="1.0"/>
<line x1="295.70" y1="669.00" x2="295.70" y2="671.40" stroke="#231f20" stroke-width="0.9"/>
<text transform="translate(298.70,678.70) rotate(-45)" x="0" y="0" font-size="7.8" text-anchor="end" fill="#231f20" stroke="#231f20" stroke-width="0.14" textLength="18.36" lengthAdjust="spacingAndGlyphs">ΔTet2</text>
<rect x="303.65" y="616.70" width="7.50" height="52.30" fill="#5b2570"/>
<line x1="307.40" y1="616.70" x2="307.40" y2="611.50" stroke="#000" stroke-width="0.9"/>
<line x1="305.40" y1="611.50" x2="309.40" y2="611.50" stroke="#000" stroke-width="1.0"/>
<line x1="307.40" y1="669.00" x2="307.40" y2="671.40" stroke="#231f20" stroke-width="0.9"/>
<circle cx="307.40" cy="607.50" r="1.0" fill="#222"/>
<text transform="translate(310.40,678.70) rotate(-45)" x="0" y="0" font-size="7.8" text-anchor="end" fill="#231f20" stroke="#231f20" stroke-width="0.14" textLength="15.55" lengthAdjust="spacingAndGlyphs">DKO</text>
<text x="277.70" y="588.33" font-size="9.3" fill="#231f20" stroke="#231f20" stroke-width="0.14" textLength="24.60" lengthAdjust="spacingAndGlyphs">Hoxa9</text>
<line x1="211.00" y1="576.70" x2="306.60" y2="576.70" stroke="#231f20" stroke-width="1.1"/>
<text x="249.50" y="571.63" font-size="9.3" fill="#231f20" stroke="#231f20" stroke-width="0.14" textLength="19.00" lengthAdjust="spacingAndGlyphs">GMP</text>
<text transform="translate(186.90,633.00) rotate(-90)" x="0" y="3.15" font-size="8.8" text-anchor="middle" fill="#231f20" stroke="#231f20" stroke-width="0.14" textLength="76.40" lengthAdjust="spacingAndGlyphs">Relative expression</text>
<line x1="371.00" y1="597.20" x2="371.00" y2="669.50" stroke="#231f20" stroke-width="1.1"/>
<line x1="370.50" y1="669.00" x2="416.40" y2="669.00" stroke="#231f20" stroke-width="1.1"/>
<line x1="368.40" y1="669.00" x2="371.00" y2="669.00" stroke="#231f20" stroke-width="1"/>
<text x="366.80" y="671.65" font-size="7.4" text-anchor="end" fill="#231f20" stroke="#231f20" stroke-width="0.14" textLength="3.79" lengthAdjust="spacingAndGlyphs">0</text>
<line x1="368.40" y1="646.00" x2="371.00" y2="646.00" stroke="#231f20" stroke-width="1"/>
<text x="366.80" y="648.65" font-size="7.4" text-anchor="end" fill="#231f20" stroke="#231f20" stroke-width="0.14" textLength="7.57" lengthAdjust="spacingAndGlyphs">50</text>
<line x1="368.40" y1="623.00" x2="371.00" y2="623.00" stroke="#231f20" stroke-width="1"/>
<text x="366.80" y="625.65" font-size="7.4" text-anchor="end" fill="#231f20" stroke="#231f20" stroke-width="0.14" textLength="11.36" lengthAdjust="spacingAndGlyphs">100</text>
<line x1="368.40" y1="600.00" x2="371.00" y2="600.00" stroke="#231f20" stroke-width="1"/>
<text x="366.80" y="602.65" font-size="7.4" text-anchor="end" fill="#231f20" stroke="#231f20" stroke-width="0.14" textLength="11.36" lengthAdjust="spacingAndGlyphs">150</text>
<line x1="376.30" y1="669.00" x2="376.30" y2="668.00" stroke="#000" stroke-width="0.9"/>
<line x1="374.30" y1="668.00" x2="378.30" y2="668.00" stroke="#000" stroke-width="1.0"/>
<line x1="376.30" y1="669.00" x2="376.30" y2="671.40" stroke="#231f20" stroke-width="0.9"/>
<text transform="translate(379.30,678.70) rotate(-45)" x="0" y="0" font-size="7.8" text-anchor="end" fill="#231f20" stroke="#231f20" stroke-width="0.14" textLength="11.16" lengthAdjust="spacingAndGlyphs">WT</text>
<line x1="388.00" y1="669.00" x2="388.00" y2="671.40" stroke="#231f20" stroke-width="0.9"/>
<text transform="translate(391.00,678.70) rotate(-45)" x="0" y="0" font-size="7.8" text-anchor="end" fill="#231f20" stroke="#231f20" stroke-width="0.14" textLength="23.94" lengthAdjust="spacingAndGlyphs">ΔE9-10</text>
<line x1="399.70" y1="669.00" x2="399.70" y2="667.80" stroke="#000" stroke-width="0.9"/>
<line x1="397.70" y1="667.80" x2="401.70" y2="667.80" stroke="#000" stroke-width="1.0"/>
<line x1="399.70" y1="669.00" x2="399.70" y2="671.40" stroke="#231f20" stroke-width="0.9"/>
<text transform="translate(402.70,678.70) rotate(-45)" x="0" y="0" font-size="7.8" text-anchor="end" fill="#231f20" stroke="#231f20" stroke-width="0.14" textLength="18.36" lengthAdjust="spacingAndGlyphs">ΔTet2</text>
<rect x="407.45" y="609.20" width="7.50" height="59.80" fill="#5b2570"/>
<line x1="411.20" y1="609.20" x2="411.20" y2="606.50" stroke="#000" stroke-width="0.9"/>
<line x1="409.20" y1="606.50" x2="413.20" y2="606.50" stroke="#000" stroke-width="1.0"/>
<line x1="411.20" y1="669.00" x2="411.20" y2="671.40" stroke="#231f20" stroke-width="0.9"/>
<circle cx="411.20" cy="606.10" r="1.0" fill="#222"/>
<circle cx="411.20" cy="602.70" r="1.0" fill="#222"/>
<circle cx="411.20" cy="599.30" r="1.0" fill="#222"/>
<circle cx="411.20" cy="595.80" r="1.0" fill="#222"/>
<text transform="translate(414.20,678.70) rotate(-45)" x="0" y="0" font-size="7.8" text-anchor="end" fill="#231f20" stroke="#231f20" stroke-width="0.14" textLength="15.55" lengthAdjust="spacingAndGlyphs">DKO</text>
<text x="378.70" y="588.33" font-size="9.3" fill="#231f20" stroke="#231f20" stroke-width="0.14" textLength="30.30" lengthAdjust="spacingAndGlyphs">Cdkn1a</text>
<line x1="440.00" y1="597.20" x2="440.00" y2="669.50" stroke="#231f20" stroke-width="1.1"/>
<line x1="439.50" y1="669.00" x2="485.60" y2="669.00" stroke="#231f20" stroke-width="1.1"/>
<line x1="437.40" y1="669.00" x2="440.00" y2="669.00" stroke="#231f20" stroke-width="1"/>
<text x="435.80" y="671.65" font-size="7.4" text-anchor="end" fill="#231f20" stroke="#231f20" stroke-width="0.14" textLength="3.79" lengthAdjust="spacingAndGlyphs">0</text>
<line x1="437.40" y1="655.20" x2="440.00" y2="655.20" stroke="#231f20" stroke-width="1"/>
<text x="435.80" y="657.85" font-size="7.4" text-anchor="end" fill="#231f20" stroke="#231f20" stroke-width="0.14" textLength="9.46" lengthAdjust="spacingAndGlyphs">0.5</text>
<line x1="437.40" y1="641.40" x2="440.00" y2="641.40" stroke="#231f20" stroke-width="1"/>
<text x="435.80" y="644.05" font-size="7.4" text-anchor="end" fill="#231f20" stroke="#231f20" stroke-width="0.14" textLength="9.46" lengthAdjust="spacingAndGlyphs">1.0</text>
<line x1="437.40" y1="627.60" x2="440.00" y2="627.60" stroke="#231f20" stroke-width="1"/>
<text x="435.80" y="630.25" font-size="7.4" text-anchor="end" fill="#231f20" stroke="#231f20" stroke-width="0.14" textLength="9.46" lengthAdjust="spacingAndGlyphs">1.5</text>
<line x1="437.40" y1="613.80" x2="440.00" y2="613.80" stroke="#231f20" stroke-width="1"/>
<text x="435.80" y="616.45" font-size="7.4" text-anchor="end" fill="#231f20" stroke="#231f20" stroke-width="0.14" textLength="9.46" lengthAdjust="spacingAndGlyphs">2.0</text>
<line x1="437.40" y1="600.00" x2="440.00" y2="600.00" stroke="#231f20" stroke-width="1"/>
<text x="435.80" y="602.65" font-size="7.4" text-anchor="end" fill="#231f20" stroke="#231f20" stroke-width="0.14" textLength="9.46" lengthAdjust="spacingAndGlyphs">2.5</text>
<rect x="442.05" y="641.50" width="7.50" height="27.50" fill="#c2103d"/>
<line x1="445.80" y1="641.50" x2="445.80" y2="640.10" stroke="#000" stroke-width="0.9"/>
<line x1="443.80" y1="640.10" x2="447.80" y2="640.10" stroke="#000" stroke-width="1.0"/>
<line x1="445.80" y1="669.00" x2="445.80" y2="671.40" stroke="#231f20" stroke-width="0.9"/>
<text transform="translate(448.80,678.70) rotate(-45)" x="0" y="0" font-size="7.8" text-anchor="end" fill="#231f20" stroke="#231f20" stroke-width="0.14" textLength="11.16" lengthAdjust="spacingAndGlyphs">WT</text>
<rect x="453.45" y="644.20" width="7.50" height="24.80" fill="#2e4b89"/>
<line x1="457.20" y1="644.20" x2="457.20" y2="642.50" stroke="#000" stroke-width="0.9"/>
<line x1="455.20" y1="642.50" x2="459.20" y2="642.50" stroke="#000" stroke-width="1.0"/>
<line x1="457.20" y1="669.00" x2="457.20" y2="671.40" stroke="#231f20" stroke-width="0.9"/>
<text transform="translate(460.20,678.70) rotate(-45)" x="0" y="0" font-size="7.8" text-anchor="end" fill="#231f20" stroke="#231f20" stroke-width="0.14" textLength="23.94" lengthAdjust="spacingAndGlyphs">ΔE9-10</text>
<rect x="464.95" y="641.50" width="7.50" height="27.50" fill="#6cb344"/>
<line x1="468.70" y1="641.50" x2="468.70" y2="639.30" stroke="#000" stroke-width="0.9"/>
<line x1="466.70" y1="639.30" x2="470.70" y2="639.30" stroke="#000" stroke-width="1.0"/>
<line x1="468.70" y1="669.00" x2="468.70" y2="671.40" stroke="#231f20" stroke-width="0.9"/>
<text transform="translate(471.70,678.70) rotate(-45)" x="0" y="0" font-size="7.8" text-anchor="end" fill="#231f20" stroke="#231f20" stroke-width="0.14" textLength="18.36" lengthAdjust="spacingAndGlyphs">ΔTet2</text>
<rect x="476.35" y="613.20" width="7.50" height="55.80" fill="#5b2570"/>
<line x1="480.10" y1="613.20" x2="480.10" y2="610.60" stroke="#000" stroke-width="0.9"/>
<line x1="478.10" y1="610.60" x2="482.10" y2="610.60" stroke="#000" stroke-width="1.0"/>
<line x1="480.10" y1="669.00" x2="480.10" y2="671.40" stroke="#231f20" stroke-width="0.9"/>
<circle cx="480.10" cy="610.20" r="1.0" fill="#222"/>
<circle cx="480.10" cy="606.80" r="1.0" fill="#222"/>
<circle cx="480.10" cy="603.40" r="1.0" fill="#222"/>
<circle cx="480.10" cy="599.90" r="1.0" fill="#222"/>
<text transform="translate(483.10,678.70) rotate(-45)" x="0" y="0" font-size="7.8" text-anchor="end" fill="#231f20" stroke="#231f20" stroke-width="0.14" textLength="15.55" lengthAdjust="spacingAndGlyphs">DKO</text>
<text x="456.10" y="588.33" font-size="9.3" fill="#231f20" stroke="#231f20" stroke-width="0.14" textLength="13.70" lengthAdjust="spacingAndGlyphs">Bax</text>
<line x1="376.30" y1="576.70" x2="471.90" y2="576.70" stroke="#231f20" stroke-width="1.1"/>
<text x="398.50" y="571.83" font-size="9.3" fill="#231f20" stroke="#231f20" stroke-width="0.14" textLength="51.20" lengthAdjust="spacingAndGlyphs">Erythroblasts</text>
<text transform="translate(343.70,633.00) rotate(-90)" x="0" y="3.15" font-size="8.8" text-anchor="middle" fill="#231f20" stroke="#231f20" stroke-width="0.14" textLength="76.40" lengthAdjust="spacingAndGlyphs">Relative expression</text>
<rect x="0.6" y="0.6" width="518.8" height="701.8" fill="none" stroke="#222" stroke-width="1.3"/>
</svg>
</body></html>
